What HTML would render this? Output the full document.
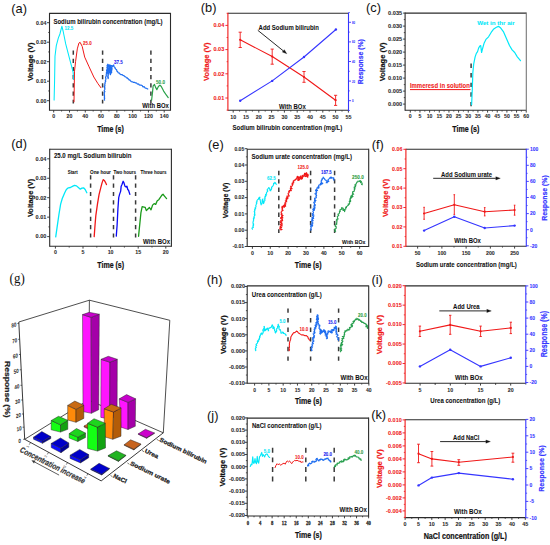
<!DOCTYPE html>
<html><head><meta charset="utf-8"><style>
html,body{margin:0;padding:0;background:#fff;}
body{width:550px;height:545px;overflow:hidden;}
svg{display:block;font-family:"Liberation Sans", sans-serif;}
</style></head><body>
<svg width="550" height="545" viewBox="0 0 550 545">
<rect width="550" height="545" fill="#fff"/>
<text x="11.30" y="13.20" font-size="12.80" fill="#111" font-weight="normal" text-anchor="start">(a)</text>
<line x1="47.00" y1="100.70" x2="49.50" y2="100.70" stroke="#2b2b2b" stroke-width="0.9" />
<text x="46.40" y="102.57" font-size="5.20" fill="#2b2b2b" font-weight="bold" text-anchor="end" stroke="#2b2b2b" stroke-width="0.06" textLength="10.29" lengthAdjust="spacingAndGlyphs">0.00</text>
<line x1="47.00" y1="81.20" x2="49.50" y2="81.20" stroke="#2b2b2b" stroke-width="0.9" />
<text x="46.40" y="83.07" font-size="5.20" fill="#2b2b2b" font-weight="bold" text-anchor="end" stroke="#2b2b2b" stroke-width="0.06" textLength="10.29" lengthAdjust="spacingAndGlyphs">0.01</text>
<line x1="47.00" y1="61.70" x2="49.50" y2="61.70" stroke="#2b2b2b" stroke-width="0.9" />
<text x="46.40" y="63.57" font-size="5.20" fill="#2b2b2b" font-weight="bold" text-anchor="end" stroke="#2b2b2b" stroke-width="0.06" textLength="10.29" lengthAdjust="spacingAndGlyphs">0.02</text>
<line x1="47.00" y1="42.20" x2="49.50" y2="42.20" stroke="#2b2b2b" stroke-width="0.9" />
<text x="46.40" y="44.07" font-size="5.20" fill="#2b2b2b" font-weight="bold" text-anchor="end" stroke="#2b2b2b" stroke-width="0.06" textLength="10.29" lengthAdjust="spacingAndGlyphs">0.03</text>
<line x1="47.00" y1="22.70" x2="49.50" y2="22.70" stroke="#2b2b2b" stroke-width="0.9" />
<text x="46.40" y="24.57" font-size="5.20" fill="#2b2b2b" font-weight="bold" text-anchor="end" stroke="#2b2b2b" stroke-width="0.06" textLength="10.29" lengthAdjust="spacingAndGlyphs">0.04</text>
<line x1="48.20" y1="90.95" x2="49.50" y2="90.95" stroke="#2b2b2b" stroke-width="0.8" />
<line x1="48.20" y1="71.45" x2="49.50" y2="71.45" stroke="#2b2b2b" stroke-width="0.8" />
<line x1="48.20" y1="51.95" x2="49.50" y2="51.95" stroke="#2b2b2b" stroke-width="0.8" />
<line x1="48.20" y1="32.45" x2="49.50" y2="32.45" stroke="#2b2b2b" stroke-width="0.8" />
<line x1="53.70" y1="110.20" x2="53.70" y2="112.50" stroke="#2b2b2b" stroke-width="0.9" />
<text x="53.70" y="118.11" font-size="5.30" fill="#2b2b2b" font-weight="bold" text-anchor="middle" stroke="#2b2b2b" stroke-width="0.06">0</text>
<line x1="69.49" y1="110.20" x2="69.49" y2="112.50" stroke="#2b2b2b" stroke-width="0.9" />
<text x="69.49" y="118.11" font-size="5.30" fill="#2b2b2b" font-weight="bold" text-anchor="middle" stroke="#2b2b2b" stroke-width="0.06">20</text>
<line x1="85.27" y1="110.20" x2="85.27" y2="112.50" stroke="#2b2b2b" stroke-width="0.9" />
<text x="85.27" y="118.11" font-size="5.30" fill="#2b2b2b" font-weight="bold" text-anchor="middle" stroke="#2b2b2b" stroke-width="0.06">40</text>
<line x1="101.06" y1="110.20" x2="101.06" y2="112.50" stroke="#2b2b2b" stroke-width="0.9" />
<text x="101.06" y="118.11" font-size="5.30" fill="#2b2b2b" font-weight="bold" text-anchor="middle" stroke="#2b2b2b" stroke-width="0.06">60</text>
<line x1="116.84" y1="110.20" x2="116.84" y2="112.50" stroke="#2b2b2b" stroke-width="0.9" />
<text x="116.84" y="118.11" font-size="5.30" fill="#2b2b2b" font-weight="bold" text-anchor="middle" stroke="#2b2b2b" stroke-width="0.06">80</text>
<line x1="132.63" y1="110.20" x2="132.63" y2="112.50" stroke="#2b2b2b" stroke-width="0.9" />
<text x="132.63" y="118.11" font-size="5.30" fill="#2b2b2b" font-weight="bold" text-anchor="middle" stroke="#2b2b2b" stroke-width="0.06">100</text>
<line x1="148.42" y1="110.20" x2="148.42" y2="112.50" stroke="#2b2b2b" stroke-width="0.9" />
<text x="148.42" y="118.11" font-size="5.30" fill="#2b2b2b" font-weight="bold" text-anchor="middle" stroke="#2b2b2b" stroke-width="0.06">120</text>
<line x1="164.20" y1="110.20" x2="164.20" y2="112.50" stroke="#2b2b2b" stroke-width="0.9" />
<text x="164.20" y="118.11" font-size="5.30" fill="#2b2b2b" font-weight="bold" text-anchor="middle" stroke="#2b2b2b" stroke-width="0.06">140</text>
<line x1="61.59" y1="110.20" x2="61.59" y2="111.50" stroke="#2b2b2b" stroke-width="0.8" />
<line x1="77.38" y1="110.20" x2="77.38" y2="111.50" stroke="#2b2b2b" stroke-width="0.8" />
<line x1="93.16" y1="110.20" x2="93.16" y2="111.50" stroke="#2b2b2b" stroke-width="0.8" />
<line x1="108.95" y1="110.20" x2="108.95" y2="111.50" stroke="#2b2b2b" stroke-width="0.8" />
<line x1="124.74" y1="110.20" x2="124.74" y2="111.50" stroke="#2b2b2b" stroke-width="0.8" />
<line x1="140.52" y1="110.20" x2="140.52" y2="111.50" stroke="#2b2b2b" stroke-width="0.8" />
<line x1="156.31" y1="110.20" x2="156.31" y2="111.50" stroke="#2b2b2b" stroke-width="0.8" />
<text x="110.50" y="131.59" font-size="8.30" fill="#111" font-weight="bold" text-anchor="middle" stroke="#111" stroke-width="0.2" textLength="26.70" lengthAdjust="spacingAndGlyphs">Time (s)</text>
<text transform="translate(30.00,61.80) rotate(-90)" x="0" y="2.88" font-size="8.00" fill="#111" font-weight="bold" text-anchor="middle" stroke="#111" stroke-width="0.2" textLength="38.60" lengthAdjust="spacingAndGlyphs">Voltage (V)</text>
<text x="53.40" y="23.90" font-size="6.40" fill="#111" font-weight="bold" text-anchor="start" stroke="#111" stroke-width="0.06" textLength="109.20" lengthAdjust="spacingAndGlyphs">Sodium bilirubin concentration (mg/L)</text>
<line x1="73.30" y1="50.50" x2="73.30" y2="103.40" stroke="#3a3a3a" stroke-width="1.5" stroke-dasharray="4.2 4"/>
<line x1="102.60" y1="50.50" x2="102.60" y2="103.40" stroke="#3a3a3a" stroke-width="1.5" stroke-dasharray="4.2 4"/>
<line x1="150.90" y1="50.50" x2="150.90" y2="103.40" stroke="#3a3a3a" stroke-width="1.5" stroke-dasharray="4.2 4"/>
<polyline points="54.10,100.10 54.60,80.00 55.00,56.30 56.30,45.60 58.30,38.10 59.90,34.00 61.90,26.20 63.20,31.50 65.70,43.90 69.80,59.60 73.10,72.00 73.60,79.50" fill="none" stroke="#00e8f8" stroke-width="1.05" stroke-linejoin="round" stroke-linecap="round" />
<polyline points="74.00,101.80 74.50,71.20 75.60,61.30 77.30,48.90 78.90,43.10 80.10,42.30 82.20,46.40 84.70,57.10 88.80,66.20 93.80,77.00 97.90,83.60 100.90,87.70" fill="none" stroke="#f01818" stroke-width="1.0" stroke-linejoin="round" stroke-linecap="round" />
<polyline points="104.58,100.22 104.42,99.59 104.27,98.97 104.72,98.34 104.20,97.71 104.61,97.09 104.46,96.46 104.18,95.83 104.59,95.21 104.17,94.58 104.52,93.96 104.19,93.33 104.21,92.70 104.51,92.08 104.88,91.45 104.24,90.83 104.33,90.20 104.70,89.57 104.98,88.95 104.65,88.32 104.49,87.70 105.01,87.07 104.17,86.44 104.58,85.82 105.06,85.24 104.73,84.46 104.76,83.78 105.24,83.20 104.98,82.55 105.23,81.97 105.76,81.42 105.27,80.74 105.71,80.19 105.84,79.59 105.69,78.95 105.92,78.37 105.57,77.71 105.65,77.11 105.86,76.52 106.36,75.97 106.28,75.34 106.28,74.73 106.24,74.11 106.54,73.52 106.49,72.90 106.41,72.27 106.91,71.71 106.89,71.09 106.54,70.43 106.90,69.85 106.92,69.24 107.29,68.66 107.22,68.03 106.89,67.38 107.57,66.84 107.20,66.18 107.09,65.42 107.57,64.85 107.85,64.22 107.63,64.82 108.19,65.41 107.90,66.02 108.31,66.61 107.76,67.22 107.68,67.82 107.87,68.42 107.60,69.02 108.12,69.61 107.79,70.22 107.89,70.82 107.91,71.42 108.04,72.02 107.70,72.62 107.62,73.22 108.05,73.82 107.89,74.42 108.45,75.01 107.88,75.62 107.94,76.22 107.64,76.83 107.80,77.42 108.30,78.01 108.12,78.62 108.05,77.99 108.34,77.38 107.79,76.72 108.22,76.12 108.00,75.48 107.99,74.85 107.97,74.22 108.64,73.63 108.10,72.98 108.25,72.36 108.41,71.74 108.88,71.14 108.20,70.47 108.57,69.87 108.70,69.25 109.03,68.64 109.01,68.01 109.09,67.39 108.60,66.74 108.75,66.12 108.74,65.49 108.90,64.87 108.60,65.50 108.57,66.11 109.34,66.66 109.35,67.27 109.34,67.88 109.38,68.48 109.20,69.10 109.14,69.71 109.48,70.30 109.75,70.88 109.42,71.51 109.50,72.11 109.43,72.73 109.53,72.13 109.91,71.55 109.72,70.93 109.60,70.31 109.73,69.71 109.83,69.11 109.31,68.47 110.11,67.92 110.04,67.31 110.16,66.71 110.14,66.10 109.81,65.47 109.95,64.87 110.07,65.48 110.37,66.08 109.93,66.72 110.47,67.31 110.50,67.92 110.41,68.54 110.48,69.15 110.35,69.77 110.65,70.37 110.73,70.98 110.62,71.61 110.70,72.22 110.50,72.84 110.83,73.44 110.10,74.09 110.47,74.69 110.61,74.09 110.23,73.45 110.35,72.84 110.48,72.24 110.53,71.63 110.34,71.01 111.03,70.43 111.19,69.83 110.76,69.19 110.81,68.58 110.48,67.95 110.53,67.34 110.78,66.74 110.75,66.13 111.00,65.53 110.74,66.15 111.39,66.70 111.56,67.30 110.77,67.96 111.19,68.53 111.58,69.10 111.26,69.73 111.77,70.30 111.36,70.93 111.00,71.56 111.15,72.15 111.52,72.73 111.74,72.14 111.39,71.51 111.53,70.92 111.40,70.31 111.98,69.74 111.81,69.13 112.08,68.55 111.72,67.92 111.66,67.31 112.24,66.75 112.44,66.16 112.04,65.53 112.83,66.18 113.55,65.71 113.75,64.87 113.75,65.63 114.00,66.29 114.33,66.92 115.02,67.40 115.05,68.15 115.37,68.70 115.82,69.17 116.40,69.56 116.73,70.11 116.86,70.77 117.02,71.42 117.67,71.64 117.96,72.34 118.34,72.92 119.14,72.95 119.64,73.38 119.98,74.05 120.50,74.41 121.06,74.71 121.88,74.59 122.49,74.80 122.91,75.34 123.70,75.58 124.37,75.99 124.87,76.65 125.65,76.74 126.13,77.41 126.67,77.96 127.49,77.96 127.71,78.62 128.38,78.82 128.70,79.37 129.05,79.90 129.94,79.88 130.11,80.58 130.70,81.04 131.25,81.57 131.96,81.79 132.73,81.89 133.31,82.32 134.04,82.31 134.78,82.27 135.26,83.01 136.05,82.84 136.65,83.20 137.09,83.72 137.59,84.14 138.38,83.96 138.94,84.24 139.28,84.96 139.93,85.06 140.58,85.16 141.28,85.18 141.85,85.42 142.40,85.72 142.66,86.61 143.26,86.81 144.09,86.56 144.51,87.13 144.90,87.71 145.38,88.15 146.07,88.23 146.76,88.32 147.21,88.80 147.78,89.09" fill="none" stroke="#1f6ef0" stroke-width="1.2" stroke-linejoin="round" stroke-linecap="round" />
<polyline points="151.59,100.22 152.51,92.36 153.16,85.82 154.47,84.51 155.52,87.13 156.83,89.74 158.40,86.47 159.97,85.16 161.28,86.47 163.64,91.05 166.25,94.98 168.22,97.60" fill="none" stroke="#28a048" stroke-width="1.2" stroke-linejoin="round" stroke-linecap="round" />
<text x="64.50" y="30.07" font-size="5.20" fill="#00e8f8" font-weight="bold" text-anchor="start" stroke="#00e8f8" stroke-width="0.06" textLength="8.60" lengthAdjust="spacingAndGlyphs">12.5</text>
<text x="83.10" y="45.27" font-size="5.20" fill="#f01818" font-weight="bold" text-anchor="start" stroke="#f01818" stroke-width="0.06" textLength="8.60" lengthAdjust="spacingAndGlyphs">25.0</text>
<text x="114.10" y="64.37" font-size="5.20" fill="#1818f0" font-weight="bold" text-anchor="start" stroke="#1818f0" stroke-width="0.06" textLength="8.80" lengthAdjust="spacingAndGlyphs">37.5</text>
<text x="156.00" y="83.77" font-size="5.20" fill="#28a048" font-weight="bold" text-anchor="start" stroke="#28a048" stroke-width="0.06" textLength="9.00" lengthAdjust="spacingAndGlyphs">50.0</text>
<text x="168.80" y="108.20" font-size="6.40" fill="#111" font-weight="bold" text-anchor="end" stroke="#111" stroke-width="0.06" textLength="26.50" lengthAdjust="spacingAndGlyphs">With BOx</text>
<line x1="49.50" y1="13.40" x2="170.50" y2="13.40" stroke="#2b2b2b" stroke-width="1.1" />
<line x1="49.50" y1="110.20" x2="170.50" y2="110.20" stroke="#2b2b2b" stroke-width="1.1" />
<line x1="49.50" y1="12.90" x2="49.50" y2="110.70" stroke="#2b2b2b" stroke-width="1.1" />
<line x1="170.50" y1="12.90" x2="170.50" y2="110.70" stroke="#2b2b2b" stroke-width="1.1" />
<text x="200.80" y="11.50" font-size="12.80" fill="#111" font-weight="normal" text-anchor="start">(b)</text>
<line x1="225.40" y1="98.00" x2="227.90" y2="98.00" stroke="#f01818" stroke-width="0.9" />
<text x="224.20" y="99.80" font-size="5.00" fill="#f01818" font-weight="bold" text-anchor="end" stroke="#f01818" stroke-width="0.06" textLength="10.71" lengthAdjust="spacingAndGlyphs">0.01</text>
<line x1="225.40" y1="73.80" x2="227.90" y2="73.80" stroke="#f01818" stroke-width="0.9" />
<text x="224.20" y="75.60" font-size="5.00" fill="#f01818" font-weight="bold" text-anchor="end" stroke="#f01818" stroke-width="0.06" textLength="10.71" lengthAdjust="spacingAndGlyphs">0.02</text>
<line x1="225.40" y1="49.60" x2="227.90" y2="49.60" stroke="#f01818" stroke-width="0.9" />
<text x="224.20" y="51.40" font-size="5.00" fill="#f01818" font-weight="bold" text-anchor="end" stroke="#f01818" stroke-width="0.06" textLength="10.71" lengthAdjust="spacingAndGlyphs">0.03</text>
<line x1="225.40" y1="25.40" x2="227.90" y2="25.40" stroke="#f01818" stroke-width="0.9" />
<text x="224.20" y="27.20" font-size="5.00" fill="#f01818" font-weight="bold" text-anchor="end" stroke="#f01818" stroke-width="0.06" textLength="10.71" lengthAdjust="spacingAndGlyphs">0.04</text>
<line x1="226.60" y1="85.90" x2="227.90" y2="85.90" stroke="#f01818" stroke-width="0.8" />
<line x1="226.60" y1="61.70" x2="227.90" y2="61.70" stroke="#f01818" stroke-width="0.8" />
<line x1="226.60" y1="37.50" x2="227.90" y2="37.50" stroke="#f01818" stroke-width="0.8" />
<line x1="348.50" y1="100.70" x2="351.00" y2="100.70" stroke="#3535ff" stroke-width="0.9" />
<text x="351.90" y="102.21" font-size="4.20" fill="#3535ff" font-weight="bold" text-anchor="start" stroke="#3535ff" stroke-width="0.06" textLength="1.55" lengthAdjust="spacingAndGlyphs">0</text>
<line x1="348.50" y1="81.10" x2="351.00" y2="81.10" stroke="#3535ff" stroke-width="0.9" />
<text x="351.90" y="82.61" font-size="4.20" fill="#3535ff" font-weight="bold" text-anchor="start" stroke="#3535ff" stroke-width="0.06" textLength="3.10" lengthAdjust="spacingAndGlyphs">20</text>
<line x1="348.50" y1="61.50" x2="351.00" y2="61.50" stroke="#3535ff" stroke-width="0.9" />
<text x="351.90" y="63.01" font-size="4.20" fill="#3535ff" font-weight="bold" text-anchor="start" stroke="#3535ff" stroke-width="0.06" textLength="3.10" lengthAdjust="spacingAndGlyphs">40</text>
<line x1="348.50" y1="41.90" x2="351.00" y2="41.90" stroke="#3535ff" stroke-width="0.9" />
<text x="351.90" y="43.41" font-size="4.20" fill="#3535ff" font-weight="bold" text-anchor="start" stroke="#3535ff" stroke-width="0.06" textLength="3.10" lengthAdjust="spacingAndGlyphs">60</text>
<line x1="348.50" y1="22.30" x2="351.00" y2="22.30" stroke="#3535ff" stroke-width="0.9" />
<text x="351.90" y="23.81" font-size="4.20" fill="#3535ff" font-weight="bold" text-anchor="start" stroke="#3535ff" stroke-width="0.06" textLength="3.10" lengthAdjust="spacingAndGlyphs">80</text>
<line x1="348.50" y1="90.90" x2="349.80" y2="90.90" stroke="#3535ff" stroke-width="0.8" />
<line x1="348.50" y1="71.30" x2="349.80" y2="71.30" stroke="#3535ff" stroke-width="0.8" />
<line x1="348.50" y1="51.70" x2="349.80" y2="51.70" stroke="#3535ff" stroke-width="0.8" />
<line x1="348.50" y1="32.10" x2="349.80" y2="32.10" stroke="#3535ff" stroke-width="0.8" />
<line x1="226.60" y1="13.30" x2="227.90" y2="13.30" stroke="#f01818" stroke-width="0.8" />
<line x1="226.60" y1="110.10" x2="227.90" y2="110.10" stroke="#f01818" stroke-width="0.8" />
<line x1="348.50" y1="110.50" x2="349.80" y2="110.50" stroke="#3535ff" stroke-width="0.8" />
<line x1="348.50" y1="12.50" x2="349.80" y2="12.50" stroke="#3535ff" stroke-width="0.8" />
<line x1="233.20" y1="110.30" x2="233.20" y2="112.60" stroke="#2b2b2b" stroke-width="0.9" />
<text x="233.20" y="118.54" font-size="5.40" fill="#2b2b2b" font-weight="bold" text-anchor="middle" stroke="#2b2b2b" stroke-width="0.06">10</text>
<line x1="246.00" y1="110.30" x2="246.00" y2="112.60" stroke="#2b2b2b" stroke-width="0.9" />
<text x="246.00" y="118.54" font-size="5.40" fill="#2b2b2b" font-weight="bold" text-anchor="middle" stroke="#2b2b2b" stroke-width="0.06">15</text>
<line x1="258.80" y1="110.30" x2="258.80" y2="112.60" stroke="#2b2b2b" stroke-width="0.9" />
<text x="258.80" y="118.54" font-size="5.40" fill="#2b2b2b" font-weight="bold" text-anchor="middle" stroke="#2b2b2b" stroke-width="0.06">20</text>
<line x1="271.60" y1="110.30" x2="271.60" y2="112.60" stroke="#2b2b2b" stroke-width="0.9" />
<text x="271.60" y="118.54" font-size="5.40" fill="#2b2b2b" font-weight="bold" text-anchor="middle" stroke="#2b2b2b" stroke-width="0.06">25</text>
<line x1="284.40" y1="110.30" x2="284.40" y2="112.60" stroke="#2b2b2b" stroke-width="0.9" />
<text x="284.40" y="118.54" font-size="5.40" fill="#2b2b2b" font-weight="bold" text-anchor="middle" stroke="#2b2b2b" stroke-width="0.06">30</text>
<line x1="297.20" y1="110.30" x2="297.20" y2="112.60" stroke="#2b2b2b" stroke-width="0.9" />
<text x="297.20" y="118.54" font-size="5.40" fill="#2b2b2b" font-weight="bold" text-anchor="middle" stroke="#2b2b2b" stroke-width="0.06">35</text>
<line x1="310.00" y1="110.30" x2="310.00" y2="112.60" stroke="#2b2b2b" stroke-width="0.9" />
<text x="310.00" y="118.54" font-size="5.40" fill="#2b2b2b" font-weight="bold" text-anchor="middle" stroke="#2b2b2b" stroke-width="0.06">40</text>
<line x1="322.80" y1="110.30" x2="322.80" y2="112.60" stroke="#2b2b2b" stroke-width="0.9" />
<text x="322.80" y="118.54" font-size="5.40" fill="#2b2b2b" font-weight="bold" text-anchor="middle" stroke="#2b2b2b" stroke-width="0.06">45</text>
<line x1="335.60" y1="110.30" x2="335.60" y2="112.60" stroke="#2b2b2b" stroke-width="0.9" />
<text x="335.60" y="118.54" font-size="5.40" fill="#2b2b2b" font-weight="bold" text-anchor="middle" stroke="#2b2b2b" stroke-width="0.06">50</text>
<line x1="348.40" y1="110.30" x2="348.40" y2="112.60" stroke="#2b2b2b" stroke-width="0.9" />
<text x="348.40" y="118.54" font-size="5.40" fill="#2b2b2b" font-weight="bold" text-anchor="middle" stroke="#2b2b2b" stroke-width="0.06">55</text>
<line x1="239.60" y1="110.30" x2="239.60" y2="111.60" stroke="#2b2b2b" stroke-width="0.8" />
<line x1="252.40" y1="110.30" x2="252.40" y2="111.60" stroke="#2b2b2b" stroke-width="0.8" />
<line x1="265.20" y1="110.30" x2="265.20" y2="111.60" stroke="#2b2b2b" stroke-width="0.8" />
<line x1="278.00" y1="110.30" x2="278.00" y2="111.60" stroke="#2b2b2b" stroke-width="0.8" />
<line x1="290.80" y1="110.30" x2="290.80" y2="111.60" stroke="#2b2b2b" stroke-width="0.8" />
<line x1="303.60" y1="110.30" x2="303.60" y2="111.60" stroke="#2b2b2b" stroke-width="0.8" />
<line x1="316.40" y1="110.30" x2="316.40" y2="111.60" stroke="#2b2b2b" stroke-width="0.8" />
<line x1="329.20" y1="110.30" x2="329.20" y2="111.60" stroke="#2b2b2b" stroke-width="0.8" />
<line x1="342.00" y1="110.30" x2="342.00" y2="111.60" stroke="#2b2b2b" stroke-width="0.8" />
<text transform="translate(206.00,61.80) rotate(-90)" x="0" y="2.88" font-size="8.00" fill="#f01818" font-weight="bold" text-anchor="middle" stroke="#f01818" stroke-width="0.2" textLength="38.40" lengthAdjust="spacingAndGlyphs">Voltage (V)</text>
<text transform="translate(360.90,61.70) rotate(-90)" x="0" y="2.59" font-size="7.20" fill="#3535ff" font-weight="bold" text-anchor="middle" stroke="#3535ff" stroke-width="0.2" textLength="45.20" lengthAdjust="spacingAndGlyphs">Response (%)</text>
<text x="232.50" y="130.08" font-size="6.60" fill="#111" font-weight="bold" text-anchor="start" stroke="#111" stroke-width="0.06" textLength="109.80" lengthAdjust="spacingAndGlyphs">Sodium bilirubin concentration (mg/L)</text>
<text x="258.60" y="29.80" font-size="6.40" fill="#111" font-weight="bold" text-anchor="start" stroke="#111" stroke-width="0.06" textLength="60.30" lengthAdjust="spacingAndGlyphs">Add Sodium bilirubin</text>
<line x1="257.80" y1="30.30" x2="283.30" y2="50.87" stroke="#111" stroke-width="0.9" />
<polygon points="286.80,53.70 282.29,52.12 284.30,49.63" fill="#111" stroke="#111" stroke-width="0.3" stroke-linejoin="round"/>
<text x="279.00" y="108.90" font-size="6.40" fill="#111" font-weight="bold" text-anchor="start" stroke="#111" stroke-width="0.06" textLength="26.80" lengthAdjust="spacingAndGlyphs">With BOx</text>
<polyline points="240.20,39.80 272.20,56.50 304.00,77.00 335.60,100.20" fill="none" stroke="#f01818" stroke-width="1.1" stroke-linejoin="round" stroke-linecap="round" />
<line x1="240.20" y1="32.20" x2="240.20" y2="47.50" stroke="#f01818" stroke-width="0.9" />
<line x1="238.60" y1="32.20" x2="241.80" y2="32.20" stroke="#f01818" stroke-width="0.9" />
<line x1="238.60" y1="47.50" x2="241.80" y2="47.50" stroke="#f01818" stroke-width="0.9" />
<circle cx="240.20" cy="39.80" r="1.1" fill="#f01818"/>
<line x1="272.20" y1="49.10" x2="272.20" y2="64.20" stroke="#f01818" stroke-width="0.9" />
<line x1="270.60" y1="49.10" x2="273.80" y2="49.10" stroke="#f01818" stroke-width="0.9" />
<line x1="270.60" y1="64.20" x2="273.80" y2="64.20" stroke="#f01818" stroke-width="0.9" />
<circle cx="272.20" cy="56.50" r="1.1" fill="#f01818"/>
<line x1="304.00" y1="71.50" x2="304.00" y2="82.30" stroke="#f01818" stroke-width="0.9" />
<line x1="302.40" y1="71.50" x2="305.60" y2="71.50" stroke="#f01818" stroke-width="0.9" />
<line x1="302.40" y1="82.30" x2="305.60" y2="82.30" stroke="#f01818" stroke-width="0.9" />
<circle cx="304.00" cy="77.00" r="1.1" fill="#f01818"/>
<line x1="335.60" y1="95.30" x2="335.60" y2="105.40" stroke="#f01818" stroke-width="0.9" />
<line x1="334.00" y1="95.30" x2="337.20" y2="95.30" stroke="#f01818" stroke-width="0.9" />
<line x1="334.00" y1="105.40" x2="337.20" y2="105.40" stroke="#f01818" stroke-width="0.9" />
<circle cx="335.60" cy="100.20" r="1.1" fill="#f01818"/>
<polyline points="240.20,100.80 272.20,80.90 304.00,57.00 335.90,29.50" fill="none" stroke="#3535ff" stroke-width="1.1" stroke-linejoin="round" stroke-linecap="round" />
<circle cx="240.20" cy="100.80" r="1.2" fill="#3535ff"/>
<circle cx="272.20" cy="80.90" r="1.2" fill="#3535ff"/>
<circle cx="304.00" cy="57.00" r="1.2" fill="#3535ff"/>
<circle cx="335.90" cy="29.50" r="1.2" fill="#3535ff"/>
<line x1="227.90" y1="13.20" x2="348.50" y2="13.20" stroke="#2b2b2b" stroke-width="1.1" />
<line x1="227.90" y1="110.30" x2="348.50" y2="110.30" stroke="#2b2b2b" stroke-width="1.1" />
<line x1="227.90" y1="12.70" x2="227.90" y2="110.80" stroke="#f01818" stroke-width="1.1" />
<line x1="348.50" y1="12.70" x2="348.50" y2="110.80" stroke="#3535ff" stroke-width="1.1" />
<text x="366.10" y="12.10" font-size="12.80" fill="#111" font-weight="normal" text-anchor="start">(c)</text>
<line x1="403.10" y1="104.10" x2="405.10" y2="104.10" stroke="#2b2b2b" stroke-width="0.9" />
<text x="402.20" y="105.94" font-size="5.10" fill="#2b2b2b" font-weight="bold" text-anchor="end" stroke="#2b2b2b" stroke-width="0.06" textLength="14.08" lengthAdjust="spacingAndGlyphs">0.000</text>
<line x1="403.10" y1="91.10" x2="405.10" y2="91.10" stroke="#2b2b2b" stroke-width="0.9" />
<text x="402.20" y="92.94" font-size="5.10" fill="#2b2b2b" font-weight="bold" text-anchor="end" stroke="#2b2b2b" stroke-width="0.06" textLength="14.08" lengthAdjust="spacingAndGlyphs">0.005</text>
<line x1="403.10" y1="78.10" x2="405.10" y2="78.10" stroke="#2b2b2b" stroke-width="0.9" />
<text x="402.20" y="79.94" font-size="5.10" fill="#2b2b2b" font-weight="bold" text-anchor="end" stroke="#2b2b2b" stroke-width="0.06" textLength="14.08" lengthAdjust="spacingAndGlyphs">0.010</text>
<line x1="403.10" y1="65.10" x2="405.10" y2="65.10" stroke="#2b2b2b" stroke-width="0.9" />
<text x="402.20" y="66.94" font-size="5.10" fill="#2b2b2b" font-weight="bold" text-anchor="end" stroke="#2b2b2b" stroke-width="0.06" textLength="14.08" lengthAdjust="spacingAndGlyphs">0.015</text>
<line x1="403.10" y1="52.10" x2="405.10" y2="52.10" stroke="#2b2b2b" stroke-width="0.9" />
<text x="402.20" y="53.94" font-size="5.10" fill="#2b2b2b" font-weight="bold" text-anchor="end" stroke="#2b2b2b" stroke-width="0.06" textLength="14.08" lengthAdjust="spacingAndGlyphs">0.020</text>
<line x1="403.10" y1="39.10" x2="405.10" y2="39.10" stroke="#2b2b2b" stroke-width="0.9" />
<text x="402.20" y="40.94" font-size="5.10" fill="#2b2b2b" font-weight="bold" text-anchor="end" stroke="#2b2b2b" stroke-width="0.06" textLength="14.08" lengthAdjust="spacingAndGlyphs">0.025</text>
<line x1="403.10" y1="26.10" x2="405.10" y2="26.10" stroke="#2b2b2b" stroke-width="0.9" />
<text x="402.20" y="27.94" font-size="5.10" fill="#2b2b2b" font-weight="bold" text-anchor="end" stroke="#2b2b2b" stroke-width="0.06" textLength="14.08" lengthAdjust="spacingAndGlyphs">0.030</text>
<line x1="403.10" y1="13.10" x2="405.10" y2="13.10" stroke="#2b2b2b" stroke-width="0.9" />
<text x="402.20" y="14.94" font-size="5.10" fill="#2b2b2b" font-weight="bold" text-anchor="end" stroke="#2b2b2b" stroke-width="0.06" textLength="14.08" lengthAdjust="spacingAndGlyphs">0.035</text>
<line x1="403.80" y1="97.60" x2="405.10" y2="97.60" stroke="#2b2b2b" stroke-width="0.8" />
<line x1="403.80" y1="84.60" x2="405.10" y2="84.60" stroke="#2b2b2b" stroke-width="0.8" />
<line x1="403.80" y1="71.60" x2="405.10" y2="71.60" stroke="#2b2b2b" stroke-width="0.8" />
<line x1="403.80" y1="58.60" x2="405.10" y2="58.60" stroke="#2b2b2b" stroke-width="0.8" />
<line x1="403.80" y1="45.60" x2="405.10" y2="45.60" stroke="#2b2b2b" stroke-width="0.8" />
<line x1="403.80" y1="32.60" x2="405.10" y2="32.60" stroke="#2b2b2b" stroke-width="0.8" />
<line x1="403.80" y1="19.60" x2="405.10" y2="19.60" stroke="#2b2b2b" stroke-width="0.8" />
<line x1="410.30" y1="110.30" x2="410.30" y2="112.60" stroke="#2b2b2b" stroke-width="0.9" />
<text x="410.30" y="118.47" font-size="5.20" fill="#2b2b2b" font-weight="bold" text-anchor="middle" stroke="#2b2b2b" stroke-width="0.06" textLength="2.90" lengthAdjust="spacingAndGlyphs">0</text>
<line x1="419.96" y1="110.30" x2="419.96" y2="112.60" stroke="#2b2b2b" stroke-width="0.9" />
<text x="419.96" y="118.47" font-size="5.20" fill="#2b2b2b" font-weight="bold" text-anchor="middle" stroke="#2b2b2b" stroke-width="0.06" textLength="2.90" lengthAdjust="spacingAndGlyphs">5</text>
<line x1="429.62" y1="110.30" x2="429.62" y2="112.60" stroke="#2b2b2b" stroke-width="0.9" />
<text x="429.62" y="118.47" font-size="5.20" fill="#2b2b2b" font-weight="bold" text-anchor="middle" stroke="#2b2b2b" stroke-width="0.06" textLength="5.80" lengthAdjust="spacingAndGlyphs">10</text>
<line x1="439.28" y1="110.30" x2="439.28" y2="112.60" stroke="#2b2b2b" stroke-width="0.9" />
<text x="439.28" y="118.47" font-size="5.20" fill="#2b2b2b" font-weight="bold" text-anchor="middle" stroke="#2b2b2b" stroke-width="0.06" textLength="5.80" lengthAdjust="spacingAndGlyphs">15</text>
<line x1="448.94" y1="110.30" x2="448.94" y2="112.60" stroke="#2b2b2b" stroke-width="0.9" />
<text x="448.94" y="118.47" font-size="5.20" fill="#2b2b2b" font-weight="bold" text-anchor="middle" stroke="#2b2b2b" stroke-width="0.06" textLength="5.80" lengthAdjust="spacingAndGlyphs">20</text>
<line x1="458.60" y1="110.30" x2="458.60" y2="112.60" stroke="#2b2b2b" stroke-width="0.9" />
<text x="458.60" y="118.47" font-size="5.20" fill="#2b2b2b" font-weight="bold" text-anchor="middle" stroke="#2b2b2b" stroke-width="0.06" textLength="5.80" lengthAdjust="spacingAndGlyphs">25</text>
<line x1="468.26" y1="110.30" x2="468.26" y2="112.60" stroke="#2b2b2b" stroke-width="0.9" />
<text x="468.26" y="118.47" font-size="5.20" fill="#2b2b2b" font-weight="bold" text-anchor="middle" stroke="#2b2b2b" stroke-width="0.06" textLength="5.80" lengthAdjust="spacingAndGlyphs">30</text>
<line x1="477.92" y1="110.30" x2="477.92" y2="112.60" stroke="#2b2b2b" stroke-width="0.9" />
<text x="477.92" y="118.47" font-size="5.20" fill="#2b2b2b" font-weight="bold" text-anchor="middle" stroke="#2b2b2b" stroke-width="0.06" textLength="5.80" lengthAdjust="spacingAndGlyphs">35</text>
<line x1="487.58" y1="110.30" x2="487.58" y2="112.60" stroke="#2b2b2b" stroke-width="0.9" />
<text x="487.58" y="118.47" font-size="5.20" fill="#2b2b2b" font-weight="bold" text-anchor="middle" stroke="#2b2b2b" stroke-width="0.06" textLength="5.80" lengthAdjust="spacingAndGlyphs">40</text>
<line x1="497.24" y1="110.30" x2="497.24" y2="112.60" stroke="#2b2b2b" stroke-width="0.9" />
<text x="497.24" y="118.47" font-size="5.20" fill="#2b2b2b" font-weight="bold" text-anchor="middle" stroke="#2b2b2b" stroke-width="0.06" textLength="5.80" lengthAdjust="spacingAndGlyphs">45</text>
<line x1="506.90" y1="110.30" x2="506.90" y2="112.60" stroke="#2b2b2b" stroke-width="0.9" />
<text x="506.90" y="118.47" font-size="5.20" fill="#2b2b2b" font-weight="bold" text-anchor="middle" stroke="#2b2b2b" stroke-width="0.06" textLength="5.80" lengthAdjust="spacingAndGlyphs">50</text>
<line x1="516.56" y1="110.30" x2="516.56" y2="112.60" stroke="#2b2b2b" stroke-width="0.9" />
<text x="516.56" y="118.47" font-size="5.20" fill="#2b2b2b" font-weight="bold" text-anchor="middle" stroke="#2b2b2b" stroke-width="0.06" textLength="5.80" lengthAdjust="spacingAndGlyphs">55</text>
<line x1="526.22" y1="110.30" x2="526.22" y2="112.60" stroke="#2b2b2b" stroke-width="0.9" />
<text x="526.22" y="118.47" font-size="5.20" fill="#2b2b2b" font-weight="bold" text-anchor="middle" stroke="#2b2b2b" stroke-width="0.06" textLength="5.80" lengthAdjust="spacingAndGlyphs">60</text>
<line x1="415.13" y1="110.30" x2="415.13" y2="111.60" stroke="#2b2b2b" stroke-width="0.8" />
<line x1="424.79" y1="110.30" x2="424.79" y2="111.60" stroke="#2b2b2b" stroke-width="0.8" />
<line x1="434.45" y1="110.30" x2="434.45" y2="111.60" stroke="#2b2b2b" stroke-width="0.8" />
<line x1="444.11" y1="110.30" x2="444.11" y2="111.60" stroke="#2b2b2b" stroke-width="0.8" />
<line x1="453.77" y1="110.30" x2="453.77" y2="111.60" stroke="#2b2b2b" stroke-width="0.8" />
<line x1="463.43" y1="110.30" x2="463.43" y2="111.60" stroke="#2b2b2b" stroke-width="0.8" />
<line x1="473.09" y1="110.30" x2="473.09" y2="111.60" stroke="#2b2b2b" stroke-width="0.8" />
<line x1="482.75" y1="110.30" x2="482.75" y2="111.60" stroke="#2b2b2b" stroke-width="0.8" />
<line x1="492.41" y1="110.30" x2="492.41" y2="111.60" stroke="#2b2b2b" stroke-width="0.8" />
<line x1="502.07" y1="110.30" x2="502.07" y2="111.60" stroke="#2b2b2b" stroke-width="0.8" />
<line x1="511.73" y1="110.30" x2="511.73" y2="111.60" stroke="#2b2b2b" stroke-width="0.8" />
<line x1="521.39" y1="110.30" x2="521.39" y2="111.60" stroke="#2b2b2b" stroke-width="0.8" />
<text transform="translate(381.90,61.85) rotate(-90)" x="0" y="2.81" font-size="7.80" fill="#111" font-weight="bold" text-anchor="middle" stroke="#111" stroke-width="0.2" textLength="38.70" lengthAdjust="spacingAndGlyphs">Voltage (V)</text>
<text x="465.80" y="132.19" font-size="8.30" fill="#111" font-weight="bold" text-anchor="middle" stroke="#111" stroke-width="0.2" textLength="27.00" lengthAdjust="spacingAndGlyphs">Time (s)</text>
<text x="409.90" y="88.07" font-size="6.30" fill="#f01818" font-weight="bold" text-anchor="start" stroke="#f01818" stroke-width="0.06" textLength="60.00" lengthAdjust="spacingAndGlyphs">Immeresd in solution</text>
<line x1="410.00" y1="89.60" x2="470.50" y2="89.60" stroke="#f01818" stroke-width="1.0" />
<line x1="471.10" y1="63.50" x2="471.10" y2="106.50" stroke="#3a3a3a" stroke-width="1.5" stroke-dasharray="4.4 5.2"/>
<text x="477.20" y="24.89" font-size="5.80" fill="#00e8f8" font-weight="bold" text-anchor="start" stroke="#00e8f8" stroke-width="0.06" textLength="37.50" lengthAdjust="spacingAndGlyphs">Wet in thr air</text>
<polyline points="471.63,104.83 472.33,88.26 472.85,72.56 473.72,63.84 475.12,56.86 476.34,53.37 477.56,51.63 478.61,48.14 479.83,46.05 480.70,45.53 481.57,52.50 482.44,49.01 484.19,42.91 485.93,39.42 488.55,36.80 491.16,32.44 493.78,28.95 496.40,27.21 498.49,26.34 500.76,28.08 503.37,31.57 506.86,39.42 509.48,45.53 512.10,49.89 514.71,52.50 517.33,56.86 520.47,60.70" fill="none" stroke="#00e8f8" stroke-width="1.2" stroke-linejoin="round" stroke-linecap="round" />
<line x1="405.10" y1="13.10" x2="526.30" y2="13.10" stroke="#2b2b2b" stroke-width="1.1" />
<line x1="405.10" y1="110.30" x2="526.30" y2="110.30" stroke="#2b2b2b" stroke-width="1.1" />
<line x1="405.10" y1="12.60" x2="405.10" y2="110.80" stroke="#2b2b2b" stroke-width="1.1" />
<line x1="526.30" y1="12.60" x2="526.30" y2="110.80" stroke="#777" stroke-width="1.1" />
<text x="11.30" y="148.20" font-size="12.80" fill="#111" font-weight="normal" text-anchor="start">(d)</text>
<line x1="47.20" y1="236.60" x2="49.70" y2="236.60" stroke="#2b2b2b" stroke-width="0.9" />
<text x="46.40" y="238.47" font-size="5.20" fill="#2b2b2b" font-weight="bold" text-anchor="end" stroke="#2b2b2b" stroke-width="0.06" textLength="10.81" lengthAdjust="spacingAndGlyphs">0.00</text>
<line x1="47.20" y1="217.15" x2="49.70" y2="217.15" stroke="#2b2b2b" stroke-width="0.9" />
<text x="46.40" y="219.02" font-size="5.20" fill="#2b2b2b" font-weight="bold" text-anchor="end" stroke="#2b2b2b" stroke-width="0.06" textLength="10.81" lengthAdjust="spacingAndGlyphs">0.01</text>
<line x1="47.20" y1="197.70" x2="49.70" y2="197.70" stroke="#2b2b2b" stroke-width="0.9" />
<text x="46.40" y="199.57" font-size="5.20" fill="#2b2b2b" font-weight="bold" text-anchor="end" stroke="#2b2b2b" stroke-width="0.06" textLength="10.81" lengthAdjust="spacingAndGlyphs">0.02</text>
<line x1="47.20" y1="178.25" x2="49.70" y2="178.25" stroke="#2b2b2b" stroke-width="0.9" />
<text x="46.40" y="180.12" font-size="5.20" fill="#2b2b2b" font-weight="bold" text-anchor="end" stroke="#2b2b2b" stroke-width="0.06" textLength="10.81" lengthAdjust="spacingAndGlyphs">0.03</text>
<line x1="47.20" y1="158.80" x2="49.70" y2="158.80" stroke="#2b2b2b" stroke-width="0.9" />
<text x="46.40" y="160.67" font-size="5.20" fill="#2b2b2b" font-weight="bold" text-anchor="end" stroke="#2b2b2b" stroke-width="0.06" textLength="10.81" lengthAdjust="spacingAndGlyphs">0.04</text>
<line x1="48.40" y1="226.88" x2="49.70" y2="226.88" stroke="#2b2b2b" stroke-width="0.8" />
<line x1="48.40" y1="207.43" x2="49.70" y2="207.43" stroke="#2b2b2b" stroke-width="0.8" />
<line x1="48.40" y1="187.97" x2="49.70" y2="187.97" stroke="#2b2b2b" stroke-width="0.8" />
<line x1="48.40" y1="168.53" x2="49.70" y2="168.53" stroke="#2b2b2b" stroke-width="0.8" />
<line x1="55.40" y1="246.30" x2="55.40" y2="248.60" stroke="#2b2b2b" stroke-width="0.9" />
<text x="55.40" y="254.41" font-size="5.30" fill="#2b2b2b" font-weight="bold" text-anchor="middle" stroke="#2b2b2b" stroke-width="0.06">0</text>
<line x1="83.00" y1="246.30" x2="83.00" y2="248.60" stroke="#2b2b2b" stroke-width="0.9" />
<text x="83.00" y="254.41" font-size="5.30" fill="#2b2b2b" font-weight="bold" text-anchor="middle" stroke="#2b2b2b" stroke-width="0.06">5</text>
<line x1="110.60" y1="246.30" x2="110.60" y2="248.60" stroke="#2b2b2b" stroke-width="0.9" />
<text x="110.60" y="254.41" font-size="5.30" fill="#2b2b2b" font-weight="bold" text-anchor="middle" stroke="#2b2b2b" stroke-width="0.06">10</text>
<line x1="138.20" y1="246.30" x2="138.20" y2="248.60" stroke="#2b2b2b" stroke-width="0.9" />
<text x="138.20" y="254.41" font-size="5.30" fill="#2b2b2b" font-weight="bold" text-anchor="middle" stroke="#2b2b2b" stroke-width="0.06">15</text>
<line x1="165.80" y1="246.30" x2="165.80" y2="248.60" stroke="#2b2b2b" stroke-width="0.9" />
<text x="165.80" y="254.41" font-size="5.30" fill="#2b2b2b" font-weight="bold" text-anchor="middle" stroke="#2b2b2b" stroke-width="0.06">20</text>
<line x1="69.20" y1="246.30" x2="69.20" y2="247.60" stroke="#2b2b2b" stroke-width="0.8" />
<line x1="96.80" y1="246.30" x2="96.80" y2="247.60" stroke="#2b2b2b" stroke-width="0.8" />
<line x1="124.40" y1="246.30" x2="124.40" y2="247.60" stroke="#2b2b2b" stroke-width="0.8" />
<line x1="152.00" y1="246.30" x2="152.00" y2="247.60" stroke="#2b2b2b" stroke-width="0.8" />
<text x="110.70" y="267.79" font-size="8.30" fill="#111" font-weight="bold" text-anchor="middle" stroke="#111" stroke-width="0.2" textLength="26.90" lengthAdjust="spacingAndGlyphs">Time (s)</text>
<text transform="translate(30.05,197.90) rotate(-90)" x="0" y="2.88" font-size="8.00" fill="#111" font-weight="bold" text-anchor="middle" stroke="#111" stroke-width="0.2" textLength="38.30" lengthAdjust="spacingAndGlyphs">Voltage (V)</text>
<text x="53.90" y="157.70" font-size="6.40" fill="#111" font-weight="bold" text-anchor="start" stroke="#111" stroke-width="0.06" textLength="77.60" lengthAdjust="spacingAndGlyphs">25.0 mg/L Sodium bilirubin</text>
<text x="67.70" y="173.76" font-size="4.90" fill="#111" font-weight="bold" text-anchor="start" stroke="#111" stroke-width="0.06" textLength="10.10" lengthAdjust="spacingAndGlyphs">Start</text>
<text x="90.10" y="173.76" font-size="4.90" fill="#111" font-weight="bold" text-anchor="start" stroke="#111" stroke-width="0.06" textLength="20.80" lengthAdjust="spacingAndGlyphs">One hour</text>
<text x="113.50" y="173.76" font-size="4.90" fill="#111" font-weight="bold" text-anchor="start" stroke="#111" stroke-width="0.06" textLength="22.40" lengthAdjust="spacingAndGlyphs">Two hours</text>
<text x="140.60" y="173.76" font-size="4.90" fill="#111" font-weight="bold" text-anchor="start" stroke="#111" stroke-width="0.06" textLength="26.00" lengthAdjust="spacingAndGlyphs">Three hours</text>
<line x1="90.60" y1="175.30" x2="90.60" y2="237.50" stroke="#3a3a3a" stroke-width="1.5" stroke-dasharray="4.2 4.1"/>
<line x1="113.50" y1="175.30" x2="113.50" y2="237.50" stroke="#3a3a3a" stroke-width="1.5" stroke-dasharray="4.2 4.1"/>
<line x1="135.60" y1="175.30" x2="135.60" y2="237.50" stroke="#3a3a3a" stroke-width="1.5" stroke-dasharray="4.2 4.1"/>
<polyline points="55.73,236.91 57.36,225.46 59.00,214.00 60.64,204.18 62.27,198.46 64.73,192.73 66.36,189.46 68.33,187.82 70.45,187.49 72.91,186.18 74.55,185.36 76.51,185.86 78.64,187.82 80.27,189.13 81.91,188.15 83.55,187.82 85.18,189.46 86.82,192.73" fill="none" stroke="#00e8f8" stroke-width="1.3" stroke-linejoin="round" stroke-linecap="round" />
<polyline points="94.18,236.58 95.00,225.46 95.82,215.64 97.46,204.18 99.09,194.36 100.73,187.82 102.04,182.91 103.18,179.64 104.33,180.45 105.31,182.09 106.46,184.55" fill="none" stroke="#f01818" stroke-width="1.3" stroke-linejoin="round" stroke-linecap="round" />
<polyline points="116.27,236.09 117.09,225.46 117.91,209.09 118.73,197.64 119.55,194.36 120.69,191.09 121.18,186.18 122.00,184.55 123.15,181.27 123.96,182.91 124.95,186.18 126.09,187.00 126.91,186.18 127.73,189.46 128.55,190.27 129.86,194.36" fill="none" stroke="#0a0af5" stroke-width="1.3" stroke-linejoin="round" stroke-linecap="round" />
<polyline points="138.56,236.30 139.65,225.40 140.90,212.94 142.15,206.71 144.01,207.18 145.26,207.49 146.35,210.61 147.91,209.05 149.46,207.49 151.02,209.83 152.58,205.16 154.14,203.60 155.69,204.38 157.25,200.80 158.81,199.71 160.36,197.37 161.92,195.04 163.01,194.26 164.26,195.81 166.59,198.62" fill="none" stroke="#1a9a1a" stroke-width="1.3" stroke-linejoin="round" stroke-linecap="round" />
<text x="170.00" y="244.30" font-size="6.40" fill="#111" font-weight="bold" text-anchor="end" stroke="#111" stroke-width="0.06" textLength="27.00" lengthAdjust="spacingAndGlyphs">With BOx</text>
<line x1="49.70" y1="149.30" x2="171.40" y2="149.30" stroke="#2b2b2b" stroke-width="1.1" />
<line x1="49.70" y1="246.30" x2="171.40" y2="246.30" stroke="#2b2b2b" stroke-width="1.1" />
<line x1="49.70" y1="148.80" x2="49.70" y2="246.80" stroke="#2b2b2b" stroke-width="1.1" />
<line x1="171.40" y1="148.80" x2="171.40" y2="246.80" stroke="#2b2b2b" stroke-width="1.1" />
<text x="208.00" y="148.90" font-size="12.80" fill="#111" font-weight="normal" text-anchor="start">(e)</text>
<line x1="244.70" y1="246.50" x2="247.20" y2="246.50" stroke="#2b2b2b" stroke-width="0.9" />
<text x="244.20" y="248.30" font-size="5.00" fill="#2b2b2b" font-weight="bold" text-anchor="end" stroke="#2b2b2b" stroke-width="0.06" textLength="11.62" lengthAdjust="spacingAndGlyphs">-0.01</text>
<line x1="244.70" y1="230.20" x2="247.20" y2="230.20" stroke="#2b2b2b" stroke-width="0.9" />
<text x="244.20" y="232.00" font-size="5.00" fill="#2b2b2b" font-weight="bold" text-anchor="end" stroke="#2b2b2b" stroke-width="0.06" textLength="9.80" lengthAdjust="spacingAndGlyphs">0.00</text>
<line x1="244.70" y1="213.90" x2="247.20" y2="213.90" stroke="#2b2b2b" stroke-width="0.9" />
<text x="244.20" y="215.70" font-size="5.00" fill="#2b2b2b" font-weight="bold" text-anchor="end" stroke="#2b2b2b" stroke-width="0.06" textLength="9.80" lengthAdjust="spacingAndGlyphs">0.01</text>
<line x1="244.70" y1="197.60" x2="247.20" y2="197.60" stroke="#2b2b2b" stroke-width="0.9" />
<text x="244.20" y="199.40" font-size="5.00" fill="#2b2b2b" font-weight="bold" text-anchor="end" stroke="#2b2b2b" stroke-width="0.06" textLength="9.80" lengthAdjust="spacingAndGlyphs">0.02</text>
<line x1="244.70" y1="181.30" x2="247.20" y2="181.30" stroke="#2b2b2b" stroke-width="0.9" />
<text x="244.20" y="183.10" font-size="5.00" fill="#2b2b2b" font-weight="bold" text-anchor="end" stroke="#2b2b2b" stroke-width="0.06" textLength="9.80" lengthAdjust="spacingAndGlyphs">0.03</text>
<line x1="244.70" y1="165.00" x2="247.20" y2="165.00" stroke="#2b2b2b" stroke-width="0.9" />
<text x="244.20" y="166.80" font-size="5.00" fill="#2b2b2b" font-weight="bold" text-anchor="end" stroke="#2b2b2b" stroke-width="0.06" textLength="9.80" lengthAdjust="spacingAndGlyphs">0.04</text>
<line x1="244.70" y1="148.70" x2="247.20" y2="148.70" stroke="#2b2b2b" stroke-width="0.9" />
<text x="244.20" y="150.50" font-size="5.00" fill="#2b2b2b" font-weight="bold" text-anchor="end" stroke="#2b2b2b" stroke-width="0.06" textLength="9.80" lengthAdjust="spacingAndGlyphs">0.05</text>
<line x1="245.90" y1="238.35" x2="247.20" y2="238.35" stroke="#2b2b2b" stroke-width="0.8" />
<line x1="245.90" y1="222.05" x2="247.20" y2="222.05" stroke="#2b2b2b" stroke-width="0.8" />
<line x1="245.90" y1="205.75" x2="247.20" y2="205.75" stroke="#2b2b2b" stroke-width="0.8" />
<line x1="245.90" y1="189.45" x2="247.20" y2="189.45" stroke="#2b2b2b" stroke-width="0.8" />
<line x1="245.90" y1="173.15" x2="247.20" y2="173.15" stroke="#2b2b2b" stroke-width="0.8" />
<line x1="245.90" y1="156.85" x2="247.20" y2="156.85" stroke="#2b2b2b" stroke-width="0.8" />
<line x1="252.40" y1="246.50" x2="252.40" y2="248.80" stroke="#2b2b2b" stroke-width="0.9" />
<text x="252.40" y="254.71" font-size="5.30" fill="#2b2b2b" font-weight="bold" text-anchor="middle" stroke="#2b2b2b" stroke-width="0.06">0</text>
<line x1="270.27" y1="246.50" x2="270.27" y2="248.80" stroke="#2b2b2b" stroke-width="0.9" />
<text x="270.27" y="254.71" font-size="5.30" fill="#2b2b2b" font-weight="bold" text-anchor="middle" stroke="#2b2b2b" stroke-width="0.06">10</text>
<line x1="288.14" y1="246.50" x2="288.14" y2="248.80" stroke="#2b2b2b" stroke-width="0.9" />
<text x="288.14" y="254.71" font-size="5.30" fill="#2b2b2b" font-weight="bold" text-anchor="middle" stroke="#2b2b2b" stroke-width="0.06">20</text>
<line x1="306.01" y1="246.50" x2="306.01" y2="248.80" stroke="#2b2b2b" stroke-width="0.9" />
<text x="306.01" y="254.71" font-size="5.30" fill="#2b2b2b" font-weight="bold" text-anchor="middle" stroke="#2b2b2b" stroke-width="0.06">30</text>
<line x1="323.88" y1="246.50" x2="323.88" y2="248.80" stroke="#2b2b2b" stroke-width="0.9" />
<text x="323.88" y="254.71" font-size="5.30" fill="#2b2b2b" font-weight="bold" text-anchor="middle" stroke="#2b2b2b" stroke-width="0.06">40</text>
<line x1="341.75" y1="246.50" x2="341.75" y2="248.80" stroke="#2b2b2b" stroke-width="0.9" />
<text x="341.75" y="254.71" font-size="5.30" fill="#2b2b2b" font-weight="bold" text-anchor="middle" stroke="#2b2b2b" stroke-width="0.06">50</text>
<line x1="359.62" y1="246.50" x2="359.62" y2="248.80" stroke="#2b2b2b" stroke-width="0.9" />
<text x="359.62" y="254.71" font-size="5.30" fill="#2b2b2b" font-weight="bold" text-anchor="middle" stroke="#2b2b2b" stroke-width="0.06">60</text>
<line x1="261.33" y1="246.50" x2="261.33" y2="247.80" stroke="#2b2b2b" stroke-width="0.8" />
<line x1="279.20" y1="246.50" x2="279.20" y2="247.80" stroke="#2b2b2b" stroke-width="0.8" />
<line x1="297.07" y1="246.50" x2="297.07" y2="247.80" stroke="#2b2b2b" stroke-width="0.8" />
<line x1="314.94" y1="246.50" x2="314.94" y2="247.80" stroke="#2b2b2b" stroke-width="0.8" />
<line x1="332.81" y1="246.50" x2="332.81" y2="247.80" stroke="#2b2b2b" stroke-width="0.8" />
<line x1="350.69" y1="246.50" x2="350.69" y2="247.80" stroke="#2b2b2b" stroke-width="0.8" />
<text x="308.20" y="268.09" font-size="8.30" fill="#111" font-weight="bold" text-anchor="middle" stroke="#111" stroke-width="0.2" textLength="26.70" lengthAdjust="spacingAndGlyphs">Time (s)</text>
<text transform="translate(225.50,200.40) rotate(-90)" x="0" y="2.74" font-size="7.60" fill="#111" font-weight="bold" text-anchor="middle" stroke="#111" stroke-width="0.2" textLength="35.60" lengthAdjust="spacingAndGlyphs">Voltage (V)</text>
<text x="251.50" y="158.90" font-size="6.40" fill="#111" font-weight="bold" text-anchor="start" stroke="#111" stroke-width="0.06" textLength="100.40" lengthAdjust="spacingAndGlyphs">Sodium urate concentration (mg/L)</text>
<line x1="278.80" y1="170.80" x2="278.80" y2="233.00" stroke="#3a3a3a" stroke-width="1.5" stroke-dasharray="4.4 3.95"/>
<line x1="310.60" y1="170.80" x2="310.60" y2="233.00" stroke="#3a3a3a" stroke-width="1.5" stroke-dasharray="4.4 3.95"/>
<line x1="334.60" y1="170.80" x2="334.60" y2="233.00" stroke="#3a3a3a" stroke-width="1.5" stroke-dasharray="4.4 3.95"/>
<polyline points="252.50,229.27 252.06,228.60 251.98,227.97 253.38,227.53 253.01,226.87 252.91,226.25 253.55,225.71 252.94,225.02 253.62,224.49 253.63,223.88 252.85,223.17 252.99,222.57 253.12,221.97 253.12,221.36 253.68,220.81 253.30,220.15 253.60,219.58 253.78,218.98 253.36,218.31 254.52,217.87 253.84,217.16 254.07,216.58 254.33,216.00 254.86,215.47 254.27,214.77 255.05,214.27 254.56,213.59 254.69,212.99 254.76,212.39 254.15,211.69 254.82,211.17 254.54,210.52 255.07,209.99 254.52,209.21 255.74,208.78 255.01,207.97 255.55,207.41 256.02,206.84 255.92,206.15 255.73,205.44 256.12,204.85 256.30,204.22 256.35,203.56 256.95,203.04 256.26,202.10 257.08,201.66 256.88,200.88 257.13,200.25 257.64,199.70 258.39,199.27 258.51,198.43 258.93,197.78 259.83,197.13 259.84,197.79 259.66,198.47 259.54,199.15 260.29,199.69 260.15,200.37 260.40,200.99 260.48,201.63 260.60,202.28 260.46,202.97 260.92,203.55 260.94,204.21 261.11,204.85 261.23,204.20 262.02,203.70 261.84,202.98 262.24,202.40 261.88,201.63 262.69,201.19 262.01,200.24 262.64,199.73 262.78,199.06 262.26,199.79 262.49,200.41 263.56,200.92 263.67,201.56 263.32,202.26 263.92,202.83 263.42,203.56 263.42,202.76 264.07,202.28 263.61,201.52 264.56,201.04 264.84,200.43 265.13,199.81 264.24,198.97 265.13,198.48 265.19,197.82 264.60,197.04 265.75,196.60 265.35,195.85 266.22,195.45 265.50,194.42 266.71,194.16 266.25,193.22 266.64,192.63 266.83,191.99 267.72,191.57 267.72,190.85 267.04,189.91 267.62,189.39 267.92,188.78 268.39,188.15 268.82,187.49 269.29,188.05 269.73,188.62 269.83,189.33 269.85,190.06 270.20,190.65 270.88,190.71 270.47,189.84 271.40,189.45 271.48,188.75 271.78,188.14 271.47,187.21 272.16,186.75 272.68,186.21 273.17,185.65 273.38,184.93 273.71,184.28 273.51,183.35 274.99,183.31 274.74,182.35 275.63,182.99 275.75,183.87 276.53,184.28" fill="none" stroke="#00e8f8" stroke-width="1.1" stroke-linejoin="round" stroke-linecap="round" />
<polyline points="280.78,229.91 282.04,229.56 279.83,228.92 280.28,228.49 279.73,227.99 281.69,227.69 280.41,227.13 280.08,226.64 280.87,226.25 282.18,225.90 281.98,225.43 280.56,224.85 280.32,224.37 282.35,224.08 281.48,223.55 281.86,223.12 280.31,222.54 280.27,222.08 281.94,221.76 281.30,221.24 280.42,220.71 282.70,220.44 281.95,219.92 282.42,219.50 281.68,218.98 280.64,218.44 282.68,218.16 280.67,217.54 282.77,217.27 281.75,216.72 281.49,216.25 282.08,215.85 283.09,215.48 281.42,214.88 281.10,214.40 282.17,214.04 281.46,213.53 281.17,213.05 281.34,212.61 281.09,212.14 281.52,211.72 281.84,211.30 281.87,210.84 283.08,210.49 282.45,209.99 282.03,209.38 282.67,209.02 281.97,208.35 282.51,207.97 281.79,207.29 282.49,206.95 282.01,206.33 283.35,206.13 283.15,206.91 283.84,207.06 284.25,207.42 283.55,206.79 284.37,206.47 285.64,206.24 283.62,205.35 285.53,205.24 284.63,204.58 284.89,204.14 285.85,203.85 284.82,203.16 285.20,202.75 285.28,202.28 285.88,202.00 286.75,201.81 285.32,200.86 286.67,200.83 286.50,200.30 286.47,199.82 286.04,199.20 286.04,198.72 286.56,198.42 287.70,197.92 287.20,199.06 286.41,198.35 286.39,197.86 288.19,197.88 287.11,197.09 287.00,196.57 286.94,196.07 288.96,196.16 289.16,195.73 288.79,195.13 288.49,194.56 288.11,193.90 288.17,193.39 288.46,192.95 289.13,192.63 289.22,192.14 288.67,191.39 289.55,191.21 289.29,190.57 291.16,190.79 291.37,190.34 290.42,189.42 290.74,189.05 290.25,188.27 292.14,188.68 290.83,187.49 291.15,187.11 290.54,186.27 291.64,186.28 292.07,185.96 292.34,185.57 292.57,185.14 292.08,184.36 293.00,184.29 292.05,183.28 292.87,183.15 293.63,182.99 292.89,182.09 293.82,182.02 293.21,181.18 293.38,180.73 294.25,180.62 294.29,180.11 295.33,180.10 295.41,179.60 295.56,179.14 296.36,179.11 296.41,178.59 296.80,178.29 297.41,178.14 296.84,177.21 297.14,176.74 297.50,176.38 298.13,176.57 296.97,177.26 299.19,177.38 297.79,178.11 298.08,178.56 299.70,178.78 297.75,179.60 297.69,180.11 298.77,180.42 299.19,180.03 299.55,179.63 299.84,179.21 298.22,178.40 299.29,178.14 299.33,177.67 299.41,177.21 300.35,177.51 300.62,177.13 300.98,176.85 300.70,175.93 300.58,176.43 299.88,177.04 300.51,177.40 300.57,177.86 301.85,178.08 302.45,178.44 301.34,179.14 300.53,178.44 301.21,178.09 300.68,177.46 302.64,177.41 302.05,176.76 302.34,176.32 302.45,175.84 302.24,175.28 302.22,176.00 302.95,176.12 303.27,176.57 302.25,175.63 304.36,175.94 304.42,175.43 304.01,174.73 304.27,174.31 304.76,173.97 304.56,173.35 305.78,173.47 304.26,174.46 305.61,174.54 306.20,174.85 305.87,175.46 304.87,176.29 305.58,176.57 304.95,175.91 306.42,175.75 307.13,175.40 306.02,174.64 305.85,174.09 306.21,173.66 306.84,173.30 306.48,172.71 305.94,173.35 306.45,173.70 306.51,174.16 308.05,174.21 308.01,174.71 307.87,175.24 306.77,176.03 308.00,176.17 307.47,176.81 307.77,177.21 306.73,176.33 307.01,175.89 307.68,175.57 308.41,175.28" fill="none" stroke="#f01818" stroke-width="1.15" stroke-linejoin="round" stroke-linecap="round" />
<polyline points="310.75,230.18 311.20,229.78 311.32,229.33 311.36,228.87 310.60,228.27 311.17,227.89 311.13,227.42 311.21,226.96 310.54,226.37 312.29,226.19 310.86,225.48 312.63,225.31 312.62,224.83 310.70,224.04 311.73,223.74 312.59,223.42 312.99,223.01 311.94,222.36 312.13,221.92 311.69,221.39 311.63,220.92 313.30,220.69 311.76,220.00 312.63,219.66 311.74,219.06 312.64,218.72 313.64,218.40 311.92,217.68 313.48,217.44 312.87,216.88 313.76,216.54 313.42,216.02 312.46,215.42 313.98,215.17 313.15,214.58 312.21,213.98 312.23,213.51 313.36,213.21 313.33,212.73 313.50,212.29 313.13,211.78 312.83,211.28 313.34,210.87 313.33,210.41 314.53,210.09 312.76,209.40 314.45,209.15 314.70,208.71 313.19,208.06 315.01,207.82 314.60,207.30 315.07,206.90 313.79,206.27 314.03,205.83 314.13,205.38 315.51,205.09 314.67,204.52 314.23,204.00 314.44,203.56 314.16,203.06 313.72,202.54 313.90,202.09 315.55,201.83 314.88,201.28 314.47,200.76 315.95,200.49 314.52,199.83 314.61,199.38 315.21,198.99 314.57,198.44 315.03,198.03 316.36,197.75 316.27,197.27 316.17,196.79 315.84,196.27 316.52,195.90 316.64,195.45 315.84,194.88 316.28,194.47 314.88,193.81 316.43,193.55 315.98,193.03 315.98,192.54 316.74,192.23 316.61,191.72 315.95,191.08 315.55,190.51 317.54,190.49 315.93,189.63 316.78,189.34 316.94,188.90 316.83,188.34 316.93,187.88 318.00,187.88 318.66,187.69 317.91,186.83 318.64,187.02 318.16,187.93 318.73,188.21 318.45,187.60 319.13,187.26 318.92,186.67 318.58,186.05 318.70,185.55 318.94,185.09 319.70,184.77 320.75,184.82 320.33,183.85 320.66,183.39 321.47,183.26 321.49,184.08 322.46,183.78 322.75,183.33 321.67,182.61 321.09,182.00 321.30,181.54 321.18,181.02 321.82,180.64 321.37,180.05 321.79,179.63 322.45,179.27 322.12,178.58 322.94,178.28 323.77,177.99 323.14,177.20 323.07,178.00 324.02,178.00 324.24,178.58 324.71,178.93 324.84,179.53 325.20,179.95 325.84,180.08 326.16,180.64 326.70,180.89 327.45,181.01 327.26,181.65 326.14,182.78 327.27,182.71 326.76,181.91 327.71,181.88 328.18,181.60 328.85,181.43 328.37,180.64 327.99,179.96 328.29,179.60 328.44,179.17 328.94,178.90 329.33,178.58 329.55,178.05 330.79,178.23 330.29,177.20 330.84,177.97 331.39,177.20 331.51,178.24 332.49,177.89 333.68,177.74 333.98,178.22 333.46,179.27 333.48,179.94 334.15,179.95" fill="none" stroke="#1f6ef0" stroke-width="1.15" stroke-linejoin="round" stroke-linecap="round" />
<polyline points="334.83,231.56 335.62,231.16 334.96,230.52 335.25,230.03 334.29,229.34 335.07,228.94 336.11,228.59 336.01,228.04 336.15,227.53 336.45,227.05 335.25,226.32 335.09,225.76 335.25,225.26 335.99,224.85 336.36,224.39 336.91,223.95 336.21,223.30 336.72,222.90 336.72,222.36 337.05,221.91 336.64,221.28 336.93,220.82 336.16,220.10 337.58,219.92 336.74,219.18 338.07,218.98 337.71,218.36 337.59,217.80 337.42,217.17 337.29,216.55 337.68,216.11 338.51,215.81 338.78,215.33 337.96,214.48 338.06,213.94 338.96,213.67 339.23,213.23 339.55,212.82 339.47,212.20 339.43,211.61 340.27,211.46 340.34,210.92 339.72,210.10 340.40,209.80 340.86,209.41 341.89,209.26 341.56,208.55 342.16,208.22 341.71,207.47 342.20,207.90 342.97,208.05 343.09,208.85 343.73,209.11 342.81,210.14 343.45,210.39 344.32,210.53 345.01,210.76 344.47,211.60 344.60,211.11 345.04,210.70 344.74,210.09 344.60,209.52 345.44,209.23 346.03,208.86 345.43,208.16 345.72,207.40 346.53,207.47 346.18,206.49 346.98,206.28 347.44,205.85 347.91,205.41 348.52,205.08 348.14,204.08 349.38,204.16 349.28,203.35 349.84,202.94 349.57,202.32 349.18,201.66 350.65,201.50 349.64,200.68 350.66,200.40 349.78,199.61 350.38,199.22 350.04,198.59 351.11,198.36 350.44,197.64 351.72,197.47 351.06,196.76 350.67,196.12 351.35,195.78 352.02,196.01 351.94,196.63 352.03,197.15 352.46,196.71 353.09,196.33 351.83,195.44 352.40,195.04 352.22,194.44 353.68,194.28 352.38,193.38 353.14,193.03 352.47,192.33 352.61,191.81 353.31,191.43 354.32,191.12 354.41,190.60 354.27,190.03 354.85,189.62 354.10,188.90 355.02,188.60 354.19,187.70 354.14,187.06 355.61,186.96 355.06,186.15 355.69,185.89 354.77,184.85 356.01,184.90 355.78,184.21 356.01,183.75 356.44,183.39 356.68,182.72 356.93,182.06 357.81,182.02 357.87,180.99 358.55,181.20 359.19,181.33 359.60,180.76 360.29,180.64 359.84,181.54 361.44,181.35 360.38,182.58 361.39,182.71 362.11,183.00 362.11,183.63 361.59,184.50 362.36,184.77" fill="none" stroke="#2aa050" stroke-width="1.1" stroke-linejoin="round" stroke-linecap="round" />
<text x="267.00" y="180.40" font-size="5.00" fill="#00e8f8" font-weight="bold" text-anchor="start" stroke="#00e8f8" stroke-width="0.06" textLength="8.60" lengthAdjust="spacingAndGlyphs">62.5</text>
<text x="297.50" y="169.30" font-size="5.00" fill="#f01818" font-weight="bold" text-anchor="start" stroke="#f01818" stroke-width="0.06" textLength="11.10" lengthAdjust="spacingAndGlyphs">125.0</text>
<text x="321.10" y="174.40" font-size="5.00" fill="#1818f0" font-weight="bold" text-anchor="start" stroke="#1818f0" stroke-width="0.06" textLength="10.60" lengthAdjust="spacingAndGlyphs">187.5</text>
<text x="352.10" y="179.30" font-size="5.00" fill="#2a9a3a" font-weight="bold" text-anchor="start" stroke="#2a9a3a" stroke-width="0.06" textLength="11.70" lengthAdjust="spacingAndGlyphs">250.0</text>
<text x="365.40" y="243.66" font-size="6.00" fill="#111" font-weight="bold" text-anchor="end" stroke="#111" stroke-width="0.06" textLength="23.30" lengthAdjust="spacingAndGlyphs">With BOx</text>
<line x1="247.20" y1="149.20" x2="368.70" y2="149.20" stroke="#2b2b2b" stroke-width="1.1" />
<line x1="247.20" y1="246.50" x2="368.70" y2="246.50" stroke="#2b2b2b" stroke-width="1.1" />
<line x1="247.20" y1="148.70" x2="247.20" y2="247.00" stroke="#2b2b2b" stroke-width="1.1" />
<line x1="368.70" y1="148.70" x2="368.70" y2="247.00" stroke="#2b2b2b" stroke-width="1.1" />
<text x="371.80" y="148.90" font-size="12.80" fill="#111" font-weight="normal" text-anchor="start">(f)</text>
<line x1="403.40" y1="246.30" x2="405.90" y2="246.30" stroke="#f01818" stroke-width="0.9" />
<text x="402.40" y="248.10" font-size="5.00" fill="#f01818" font-weight="bold" text-anchor="end" stroke="#f01818" stroke-width="0.06" textLength="10.29" lengthAdjust="spacingAndGlyphs">0.01</text>
<line x1="403.40" y1="226.90" x2="405.90" y2="226.90" stroke="#f01818" stroke-width="0.9" />
<text x="402.40" y="228.70" font-size="5.00" fill="#f01818" font-weight="bold" text-anchor="end" stroke="#f01818" stroke-width="0.06" textLength="10.29" lengthAdjust="spacingAndGlyphs">0.02</text>
<line x1="403.40" y1="207.50" x2="405.90" y2="207.50" stroke="#f01818" stroke-width="0.9" />
<text x="402.40" y="209.30" font-size="5.00" fill="#f01818" font-weight="bold" text-anchor="end" stroke="#f01818" stroke-width="0.06" textLength="10.29" lengthAdjust="spacingAndGlyphs">0.03</text>
<line x1="403.40" y1="188.10" x2="405.90" y2="188.10" stroke="#f01818" stroke-width="0.9" />
<text x="402.40" y="189.90" font-size="5.00" fill="#f01818" font-weight="bold" text-anchor="end" stroke="#f01818" stroke-width="0.06" textLength="10.29" lengthAdjust="spacingAndGlyphs">0.04</text>
<line x1="403.40" y1="168.70" x2="405.90" y2="168.70" stroke="#f01818" stroke-width="0.9" />
<text x="402.40" y="170.50" font-size="5.00" fill="#f01818" font-weight="bold" text-anchor="end" stroke="#f01818" stroke-width="0.06" textLength="10.29" lengthAdjust="spacingAndGlyphs">0.05</text>
<line x1="403.40" y1="149.30" x2="405.90" y2="149.30" stroke="#f01818" stroke-width="0.9" />
<text x="402.40" y="151.10" font-size="5.00" fill="#f01818" font-weight="bold" text-anchor="end" stroke="#f01818" stroke-width="0.06" textLength="10.29" lengthAdjust="spacingAndGlyphs">0.06</text>
<line x1="404.60" y1="236.60" x2="405.90" y2="236.60" stroke="#f01818" stroke-width="0.8" />
<line x1="404.60" y1="217.20" x2="405.90" y2="217.20" stroke="#f01818" stroke-width="0.8" />
<line x1="404.60" y1="197.80" x2="405.90" y2="197.80" stroke="#f01818" stroke-width="0.8" />
<line x1="404.60" y1="178.40" x2="405.90" y2="178.40" stroke="#f01818" stroke-width="0.8" />
<line x1="404.60" y1="159.00" x2="405.90" y2="159.00" stroke="#f01818" stroke-width="0.8" />
<line x1="526.30" y1="245.80" x2="528.80" y2="245.80" stroke="#3535ff" stroke-width="0.9" />
<text x="530.00" y="247.60" font-size="5.00" fill="#3535ff" font-weight="bold" text-anchor="start" stroke="#3535ff" stroke-width="0.06">-20</text>
<line x1="526.30" y1="229.70" x2="528.80" y2="229.70" stroke="#3535ff" stroke-width="0.9" />
<text x="530.00" y="231.50" font-size="5.00" fill="#3535ff" font-weight="bold" text-anchor="start" stroke="#3535ff" stroke-width="0.06">0</text>
<line x1="526.30" y1="213.60" x2="528.80" y2="213.60" stroke="#3535ff" stroke-width="0.9" />
<text x="530.00" y="215.40" font-size="5.00" fill="#3535ff" font-weight="bold" text-anchor="start" stroke="#3535ff" stroke-width="0.06">20</text>
<line x1="526.30" y1="197.50" x2="528.80" y2="197.50" stroke="#3535ff" stroke-width="0.9" />
<text x="530.00" y="199.30" font-size="5.00" fill="#3535ff" font-weight="bold" text-anchor="start" stroke="#3535ff" stroke-width="0.06">40</text>
<line x1="526.30" y1="181.40" x2="528.80" y2="181.40" stroke="#3535ff" stroke-width="0.9" />
<text x="530.00" y="183.20" font-size="5.00" fill="#3535ff" font-weight="bold" text-anchor="start" stroke="#3535ff" stroke-width="0.06">60</text>
<line x1="526.30" y1="165.30" x2="528.80" y2="165.30" stroke="#3535ff" stroke-width="0.9" />
<text x="530.00" y="167.10" font-size="5.00" fill="#3535ff" font-weight="bold" text-anchor="start" stroke="#3535ff" stroke-width="0.06">80</text>
<line x1="526.30" y1="149.20" x2="528.80" y2="149.20" stroke="#3535ff" stroke-width="0.9" />
<text x="530.00" y="151.00" font-size="5.00" fill="#3535ff" font-weight="bold" text-anchor="start" stroke="#3535ff" stroke-width="0.06">100</text>
<line x1="526.30" y1="237.75" x2="527.60" y2="237.75" stroke="#3535ff" stroke-width="0.8" />
<line x1="526.30" y1="221.65" x2="527.60" y2="221.65" stroke="#3535ff" stroke-width="0.8" />
<line x1="526.30" y1="205.55" x2="527.60" y2="205.55" stroke="#3535ff" stroke-width="0.8" />
<line x1="526.30" y1="189.45" x2="527.60" y2="189.45" stroke="#3535ff" stroke-width="0.8" />
<line x1="526.30" y1="173.35" x2="527.60" y2="173.35" stroke="#3535ff" stroke-width="0.8" />
<line x1="526.30" y1="157.25" x2="527.60" y2="157.25" stroke="#3535ff" stroke-width="0.8" />
<line x1="417.64" y1="246.30" x2="417.64" y2="248.60" stroke="#2b2b2b" stroke-width="0.9" />
<text x="417.64" y="254.51" font-size="5.30" fill="#2b2b2b" font-weight="bold" text-anchor="middle" stroke="#2b2b2b" stroke-width="0.06">50</text>
<line x1="441.88" y1="246.30" x2="441.88" y2="248.60" stroke="#2b2b2b" stroke-width="0.9" />
<text x="441.88" y="254.51" font-size="5.30" fill="#2b2b2b" font-weight="bold" text-anchor="middle" stroke="#2b2b2b" stroke-width="0.06">100</text>
<line x1="466.12" y1="246.30" x2="466.12" y2="248.60" stroke="#2b2b2b" stroke-width="0.9" />
<text x="466.12" y="254.51" font-size="5.30" fill="#2b2b2b" font-weight="bold" text-anchor="middle" stroke="#2b2b2b" stroke-width="0.06">150</text>
<line x1="490.36" y1="246.30" x2="490.36" y2="248.60" stroke="#2b2b2b" stroke-width="0.9" />
<text x="490.36" y="254.51" font-size="5.30" fill="#2b2b2b" font-weight="bold" text-anchor="middle" stroke="#2b2b2b" stroke-width="0.06">200</text>
<line x1="514.60" y1="246.30" x2="514.60" y2="248.60" stroke="#2b2b2b" stroke-width="0.9" />
<text x="514.60" y="254.51" font-size="5.30" fill="#2b2b2b" font-weight="bold" text-anchor="middle" stroke="#2b2b2b" stroke-width="0.06">250</text>
<line x1="429.76" y1="246.30" x2="429.76" y2="247.60" stroke="#2b2b2b" stroke-width="0.8" />
<line x1="454.00" y1="246.30" x2="454.00" y2="247.60" stroke="#2b2b2b" stroke-width="0.8" />
<line x1="478.24" y1="246.30" x2="478.24" y2="247.60" stroke="#2b2b2b" stroke-width="0.8" />
<line x1="502.48" y1="246.30" x2="502.48" y2="247.60" stroke="#2b2b2b" stroke-width="0.8" />
<text transform="translate(385.50,197.90) rotate(-90)" x="0" y="2.88" font-size="8.00" fill="#f01818" font-weight="bold" text-anchor="middle" stroke="#f01818" stroke-width="0.2" textLength="38.30" lengthAdjust="spacingAndGlyphs">Voltage (V)</text>
<text transform="translate(544.20,198.00) rotate(-90)" x="0" y="2.88" font-size="8.00" fill="#3535ff" font-weight="bold" text-anchor="middle" stroke="#3535ff" stroke-width="0.2" textLength="45.60" lengthAdjust="spacingAndGlyphs">Response (%)</text>
<text x="415.90" y="266.75" font-size="6.80" fill="#111" font-weight="bold" text-anchor="start" stroke="#111" stroke-width="0.06" textLength="101.00" lengthAdjust="spacingAndGlyphs">Sodium urate concentration (mg/L)</text>
<text x="441.00" y="177.00" font-size="6.40" fill="#111" font-weight="bold" text-anchor="start" stroke="#111" stroke-width="0.06" textLength="51.10" lengthAdjust="spacingAndGlyphs">Add Sodium urate</text>
<line x1="433.20" y1="178.30" x2="495.80" y2="178.30" stroke="#111" stroke-width="0.9" />
<polygon points="500.30,178.30 495.80,179.90 495.80,176.70" fill="#111" stroke="#111" stroke-width="0.3" stroke-linejoin="round"/>
<text x="454.20" y="242.90" font-size="6.40" fill="#111" font-weight="bold" text-anchor="start" stroke="#111" stroke-width="0.06" textLength="26.70" lengthAdjust="spacingAndGlyphs">With BOx</text>
<polyline points="424.10,213.50 454.30,204.80 484.70,211.70 514.60,210.00" fill="none" stroke="#f01818" stroke-width="1.1" stroke-linejoin="round" stroke-linecap="round" />
<line x1="424.10" y1="207.30" x2="424.10" y2="219.30" stroke="#f01818" stroke-width="0.9" />
<line x1="423.30" y1="207.30" x2="424.90" y2="207.30" stroke="#f01818" stroke-width="0.9" />
<line x1="423.30" y1="219.30" x2="424.90" y2="219.30" stroke="#f01818" stroke-width="0.9" />
<circle cx="424.10" cy="213.50" r="1.1" fill="#f01818"/>
<line x1="454.30" y1="194.70" x2="454.30" y2="214.40" stroke="#f01818" stroke-width="0.9" />
<line x1="453.50" y1="194.70" x2="455.10" y2="194.70" stroke="#f01818" stroke-width="0.9" />
<line x1="453.50" y1="214.40" x2="455.10" y2="214.40" stroke="#f01818" stroke-width="0.9" />
<circle cx="454.30" cy="204.80" r="1.1" fill="#f01818"/>
<line x1="484.70" y1="207.60" x2="484.70" y2="215.90" stroke="#f01818" stroke-width="0.9" />
<line x1="483.90" y1="207.60" x2="485.50" y2="207.60" stroke="#f01818" stroke-width="0.9" />
<line x1="483.90" y1="215.90" x2="485.50" y2="215.90" stroke="#f01818" stroke-width="0.9" />
<circle cx="484.70" cy="211.70" r="1.1" fill="#f01818"/>
<line x1="514.60" y1="205.20" x2="514.60" y2="215.20" stroke="#f01818" stroke-width="0.9" />
<line x1="513.80" y1="205.20" x2="515.40" y2="205.20" stroke="#f01818" stroke-width="0.9" />
<line x1="513.80" y1="215.20" x2="515.40" y2="215.20" stroke="#f01818" stroke-width="0.9" />
<circle cx="514.60" cy="210.00" r="1.1" fill="#f01818"/>
<polyline points="424.10,230.60 454.30,216.70 484.70,228.00 514.60,225.60" fill="none" stroke="#3535ff" stroke-width="1.1" stroke-linejoin="round" stroke-linecap="round" />
<circle cx="424.10" cy="230.60" r="1.2" fill="#3535ff"/>
<circle cx="454.30" cy="216.70" r="1.2" fill="#3535ff"/>
<circle cx="484.70" cy="228.00" r="1.2" fill="#3535ff"/>
<circle cx="514.60" cy="225.60" r="1.2" fill="#3535ff"/>
<line x1="405.90" y1="149.20" x2="526.30" y2="149.20" stroke="#2b2b2b" stroke-width="1.1" />
<line x1="405.90" y1="246.30" x2="526.30" y2="246.30" stroke="#2b2b2b" stroke-width="1.1" />
<line x1="405.90" y1="148.70" x2="405.90" y2="246.80" stroke="#f01818" stroke-width="1.1" />
<line x1="526.30" y1="148.70" x2="526.30" y2="246.80" stroke="#3535ff" stroke-width="1.1" />
<text x="9.60" y="283.00" font-size="13.60" fill="#111" font-weight="normal" text-anchor="start" font-family='"Liberation Serif", serif' textLength="15.20" lengthAdjust="spacingAndGlyphs">(g)</text>
<line x1="18.80" y1="322.00" x2="89.40" y2="300.20" stroke="#222" stroke-width="0.8" />
<line x1="89.40" y1="300.20" x2="169.80" y2="320.30" stroke="#222" stroke-width="0.8" />
<line x1="89.40" y1="300.20" x2="88.50" y2="400.00" stroke="#222" stroke-width="0.8" />
<line x1="169.80" y1="320.30" x2="163.30" y2="432.80" stroke="#222" stroke-width="0.8" />
<line x1="24.70" y1="439.30" x2="88.50" y2="400.00" stroke="#222" stroke-width="0.8" />
<line x1="88.50" y1="400.00" x2="163.30" y2="432.80" stroke="#222" stroke-width="0.8" />
<line x1="18.80" y1="322.00" x2="24.70" y2="439.30" stroke="#222" stroke-width="0.9" />
<line x1="24.70" y1="439.30" x2="101.20" y2="480.90" stroke="#222" stroke-width="0.9" />
<line x1="101.20" y1="480.90" x2="163.30" y2="432.80" stroke="#222" stroke-width="0.9" />
<line x1="17.38" y1="323.50" x2="18.88" y2="323.50" stroke="#222" stroke-width="0.7" />
<text transform="translate(13.88,324.90) rotate(-15) skewX(-12)" x="0" y="2.1" font-size="5.8" text-anchor="middle" fill="#2a2a2a" font-weight="bold" textLength="5.2" lengthAdjust="spacingAndGlyphs">80</text>
<line x1="18.17" y1="339.30" x2="19.67" y2="339.30" stroke="#222" stroke-width="0.7" />
<text transform="translate(14.67,340.70) rotate(-15) skewX(-12)" x="0" y="2.1" font-size="5.8" text-anchor="middle" fill="#2a2a2a" font-weight="bold" textLength="5.2" lengthAdjust="spacingAndGlyphs">70</text>
<line x1="18.93" y1="354.50" x2="20.43" y2="354.50" stroke="#222" stroke-width="0.7" />
<text transform="translate(15.43,355.90) rotate(-15) skewX(-12)" x="0" y="2.1" font-size="5.8" text-anchor="middle" fill="#2a2a2a" font-weight="bold" textLength="5.2" lengthAdjust="spacingAndGlyphs">60</text>
<line x1="19.70" y1="369.80" x2="21.20" y2="369.80" stroke="#222" stroke-width="0.7" />
<text transform="translate(16.20,371.20) rotate(-15) skewX(-12)" x="0" y="2.1" font-size="5.8" text-anchor="middle" fill="#2a2a2a" font-weight="bold" textLength="5.2" lengthAdjust="spacingAndGlyphs">50</text>
<line x1="20.48" y1="385.30" x2="21.98" y2="385.30" stroke="#222" stroke-width="0.7" />
<text transform="translate(16.98,386.70) rotate(-15) skewX(-12)" x="0" y="2.1" font-size="5.8" text-anchor="middle" fill="#2a2a2a" font-weight="bold" textLength="5.2" lengthAdjust="spacingAndGlyphs">40</text>
<line x1="21.22" y1="400.00" x2="22.72" y2="400.00" stroke="#222" stroke-width="0.7" />
<text transform="translate(17.72,401.40) rotate(-15) skewX(-12)" x="0" y="2.1" font-size="5.8" text-anchor="middle" fill="#2a2a2a" font-weight="bold" textLength="5.2" lengthAdjust="spacingAndGlyphs">30</text>
<line x1="21.93" y1="414.00" x2="23.43" y2="414.00" stroke="#222" stroke-width="0.7" />
<text transform="translate(18.43,415.40) rotate(-15) skewX(-12)" x="0" y="2.1" font-size="5.8" text-anchor="middle" fill="#2a2a2a" font-weight="bold" textLength="5.2" lengthAdjust="spacingAndGlyphs">20</text>
<line x1="22.59" y1="427.20" x2="24.09" y2="427.20" stroke="#222" stroke-width="0.7" />
<text transform="translate(19.09,428.60) rotate(-15) skewX(-12)" x="0" y="2.1" font-size="5.8" text-anchor="middle" fill="#2a2a2a" font-weight="bold" textLength="5.2" lengthAdjust="spacingAndGlyphs">10</text>
<line x1="23.20" y1="439.30" x2="24.70" y2="439.30" stroke="#222" stroke-width="0.7" />
<text transform="translate(19.70,440.70) rotate(-15) skewX(-12)" x="0" y="2.1" font-size="5.8" text-anchor="middle" fill="#2a2a2a" font-weight="bold" textLength="2.6" lengthAdjust="spacingAndGlyphs">0</text>
<text transform="translate(7.9,389.3) rotate(90)" x="0" y="2.45" font-size="6.8" font-weight="bold" text-anchor="middle" fill="#222" stroke="#222" stroke-width="0.2" textLength="56.6" lengthAdjust="spacingAndGlyphs">Response (%)</text>
<line x1="30.50" y1="442.60" x2="29.30" y2="444.60" stroke="#222" stroke-width="0.6" />
<text transform="translate(28.70,447.20) rotate(-60)" font-size="3.6" text-anchor="middle" fill="#333">1</text>
<line x1="48.50" y1="452.40" x2="47.30" y2="454.40" stroke="#222" stroke-width="0.6" />
<text transform="translate(46.70,457.00) rotate(-60)" font-size="3.6" text-anchor="middle" fill="#333">2</text>
<line x1="67.50" y1="462.60" x2="66.30" y2="464.60" stroke="#222" stroke-width="0.6" />
<text transform="translate(65.70,467.20) rotate(-60)" font-size="3.6" text-anchor="middle" fill="#333">3</text>
<line x1="88.00" y1="473.60" x2="86.80" y2="475.60" stroke="#222" stroke-width="0.6" />
<text transform="translate(86.20,478.20) rotate(-60)" font-size="3.6" text-anchor="middle" fill="#333">4</text>
<line x1="110.50" y1="475.40" x2="112.50" y2="476.80" stroke="#222" stroke-width="0.6" />
<text transform="translate(113.70,475.20) rotate(26)" x="0" y="2.2" font-size="6.0" font-weight="bold" fill="#222" stroke="#222" stroke-width="0.25" textLength="14.4" lengthAdjust="spacingAndGlyphs">NaCl</text>
<line x1="127.40" y1="462.90" x2="129.40" y2="464.30" stroke="#222" stroke-width="0.6" />
<text transform="translate(130.60,462.70) rotate(26)" x="0" y="2.2" font-size="6.0" font-weight="bold" fill="#222" stroke="#222" stroke-width="0.25" textLength="43.8" lengthAdjust="spacingAndGlyphs">Sodium urate</text>
<line x1="142.00" y1="450.40" x2="144.00" y2="451.80" stroke="#222" stroke-width="0.6" />
<text transform="translate(145.20,450.20) rotate(26)" x="0" y="2.2" font-size="6.0" font-weight="bold" fill="#222" stroke="#222" stroke-width="0.25" textLength="14.6" lengthAdjust="spacingAndGlyphs">Urea</text>
<line x1="156.70" y1="439.20" x2="158.70" y2="440.60" stroke="#222" stroke-width="0.6" />
<text transform="translate(159.90,439.00) rotate(26)" x="0" y="2.2" font-size="6.0" font-weight="bold" fill="#222" stroke="#222" stroke-width="0.25" textLength="52.0" lengthAdjust="spacingAndGlyphs">Sodium bilirubin</text>
<text transform="translate(19.2,451.6) rotate(26.6)" x="0" y="0" font-size="8.0" font-weight="bold" font-style="italic" fill="#333" stroke="#333" stroke-width="0.2" textLength="72" lengthAdjust="spacingAndGlyphs">Concentration increase</text>
<line x1="59.10" y1="475.10" x2="34.62" y2="462.01" stroke="#333" stroke-width="0.8" />
<polygon points="31.80,460.50 35.28,460.77 33.96,463.24" fill="#333" stroke="#333" stroke-width="0.3" stroke-linejoin="round"/>
<polygon points="82.50,314.60 91.10,317.40 91.40,413.30 83.00,411.60" fill="#ff14ff" stroke="#222" stroke-width="0.45" stroke-linejoin="round"/>
<polygon points="91.10,317.40 99.30,314.20 98.70,409.70 91.40,413.30" fill="#a400a8" stroke="#222" stroke-width="0.45" stroke-linejoin="round"/>
<polygon points="82.50,314.60 89.20,312.30 99.30,314.20 91.10,317.40" fill="#c800cc" stroke="#222" stroke-width="0.45" stroke-linejoin="round"/>
<polygon points="101.00,359.30 109.90,362.20 109.60,419.00 100.80,417.40" fill="#ff14ff" stroke="#222" stroke-width="0.45" stroke-linejoin="round"/>
<polygon points="109.90,362.20 117.30,359.30 117.10,416.00 109.60,419.00" fill="#a400a8" stroke="#222" stroke-width="0.45" stroke-linejoin="round"/>
<polygon points="101.00,359.30 108.30,356.30 117.30,359.30 109.90,362.20" fill="#c800cc" stroke="#222" stroke-width="0.45" stroke-linejoin="round"/>
<polygon points="67.70,405.40 76.00,409.40 76.00,422.30 67.70,420.00" fill="#ff8a0a" stroke="#222" stroke-width="0.45" stroke-linejoin="round"/>
<polygon points="76.00,409.40 83.80,405.20 83.80,418.40 76.00,422.30" fill="#b35c08" stroke="#222" stroke-width="0.45" stroke-linejoin="round"/>
<polygon points="67.70,405.40 74.80,401.10 83.80,405.20 76.00,409.40" fill="#c86a14" stroke="#222" stroke-width="0.45" stroke-linejoin="round"/>
<polygon points="119.30,398.80 128.00,402.40 128.00,429.50 120.90,427.20" fill="#ff14ff" stroke="#222" stroke-width="0.45" stroke-linejoin="round"/>
<polygon points="128.00,402.40 135.60,398.80 135.30,426.30 128.00,429.50" fill="#a400a8" stroke="#222" stroke-width="0.45" stroke-linejoin="round"/>
<polygon points="119.30,398.80 126.60,394.60 135.60,398.80 128.00,402.40" fill="#c800cc" stroke="#222" stroke-width="0.45" stroke-linejoin="round"/>
<polygon points="84.00,426.00 92.50,430.00 92.50,431.00 84.00,427.00" fill="#e0641e" stroke="#222" stroke-width="0.45" stroke-linejoin="round"/>
<polygon points="92.50,430.00 100.50,425.80 100.50,426.80 92.50,431.00" fill="#a04a10" stroke="#222" stroke-width="0.45" stroke-linejoin="round"/>
<polygon points="84.00,426.00 91.50,422.00 100.50,425.80 92.50,430.00" fill="#e0641e" stroke="#222" stroke-width="0.45" stroke-linejoin="round"/>
<polygon points="51.20,420.50 60.50,424.80 60.50,432.10 51.20,429.80" fill="#14ff14" stroke="#222" stroke-width="0.45" stroke-linejoin="round"/>
<polygon points="60.50,424.80 67.80,420.30 67.80,429.30 60.50,432.10" fill="#12a212" stroke="#222" stroke-width="0.45" stroke-linejoin="round"/>
<polygon points="51.20,420.50 58.50,416.30 67.80,420.30 60.50,424.80" fill="#1ed41e" stroke="#222" stroke-width="0.45" stroke-linejoin="round"/>
<polygon points="138.30,433.80 146.60,437.60 146.60,438.30 138.30,434.40" fill="#cc00cc" stroke="#222" stroke-width="0.45" stroke-linejoin="round"/>
<polygon points="146.60,437.60 154.40,432.90 154.40,433.50 146.60,438.30" fill="#880088" stroke="#222" stroke-width="0.45" stroke-linejoin="round"/>
<polygon points="138.30,433.80 145.40,429.30 154.40,432.90 146.60,437.60" fill="#cc00cc" stroke="#222" stroke-width="0.45" stroke-linejoin="round"/>
<polygon points="104.20,408.80 113.50,412.10 112.80,439.30 104.30,436.80" fill="#ff8a0a" stroke="#222" stroke-width="0.45" stroke-linejoin="round"/>
<polygon points="113.50,412.10 121.10,407.90 121.00,436.20 112.80,439.30" fill="#b35c08" stroke="#222" stroke-width="0.45" stroke-linejoin="round"/>
<polygon points="104.20,408.80 111.20,404.30 121.10,407.90 113.50,412.10" fill="#c86a14" stroke="#222" stroke-width="0.45" stroke-linejoin="round"/>
<polygon points="69.20,433.60 77.80,437.20 77.80,441.50 69.20,438.00" fill="#14ff14" stroke="#222" stroke-width="0.45" stroke-linejoin="round"/>
<polygon points="77.80,437.20 85.50,433.10 85.50,437.50 77.80,441.50" fill="#12a212" stroke="#222" stroke-width="0.45" stroke-linejoin="round"/>
<polygon points="69.20,433.60 76.50,428.50 85.50,433.10 77.80,437.20" fill="#1ed41e" stroke="#222" stroke-width="0.45" stroke-linejoin="round"/>
<polygon points="33.50,437.20 42.50,441.30 42.50,443.30 33.50,439.20" fill="#1010ff" stroke="#222" stroke-width="0.45" stroke-linejoin="round"/>
<polygon points="42.50,441.30 50.80,436.60 50.80,438.60 42.50,443.30" fill="#00009a" stroke="#222" stroke-width="0.45" stroke-linejoin="round"/>
<polygon points="33.50,437.20 41.80,431.50 50.80,436.60 42.50,441.30" fill="#0000c8" stroke="#222" stroke-width="0.45" stroke-linejoin="round"/>
<polygon points="124.20,444.70 133.80,449.20 133.80,449.90 124.20,445.30" fill="#c8641e" stroke="#222" stroke-width="0.45" stroke-linejoin="round"/>
<polygon points="133.80,449.20 140.90,444.00 140.90,444.60 133.80,449.90" fill="#8a4010" stroke="#222" stroke-width="0.45" stroke-linejoin="round"/>
<polygon points="124.20,444.70 130.60,439.80 140.90,444.00 133.80,449.20" fill="#c8641e" stroke="#222" stroke-width="0.45" stroke-linejoin="round"/>
<polygon points="87.60,423.30 97.40,427.20 97.60,451.10 87.60,448.50" fill="#14ff14" stroke="#222" stroke-width="0.45" stroke-linejoin="round"/>
<polygon points="97.40,427.20 105.30,423.20 105.50,447.90 97.60,451.10" fill="#12a212" stroke="#222" stroke-width="0.45" stroke-linejoin="round"/>
<polygon points="87.60,423.30 94.00,418.70 105.30,423.20 97.40,427.20" fill="#1ed41e" stroke="#222" stroke-width="0.45" stroke-linejoin="round"/>
<polygon points="51.20,443.40 61.00,448.20 61.00,452.70 51.20,447.60" fill="#1010ff" stroke="#222" stroke-width="0.45" stroke-linejoin="round"/>
<polygon points="61.00,448.20 68.80,443.00 68.80,447.20 61.00,452.70" fill="#00009a" stroke="#222" stroke-width="0.45" stroke-linejoin="round"/>
<polygon points="51.20,443.40 60.50,437.90 68.80,443.00 61.00,448.20" fill="#0000c8" stroke="#222" stroke-width="0.45" stroke-linejoin="round"/>
<polygon points="108.10,455.60 118.40,460.70 118.40,461.40 108.10,456.20" fill="#22b422" stroke="#222" stroke-width="0.45" stroke-linejoin="round"/>
<polygon points="118.40,460.70 125.80,455.20 125.80,455.80 118.40,461.40" fill="#107010" stroke="#222" stroke-width="0.45" stroke-linejoin="round"/>
<polygon points="108.10,455.60 116.50,450.80 125.80,455.20 118.40,460.70" fill="#22b422" stroke="#222" stroke-width="0.45" stroke-linejoin="round"/>
<polygon points="70.10,455.20 80.50,459.70 80.50,462.90 70.10,458.40" fill="#1010ff" stroke="#222" stroke-width="0.45" stroke-linejoin="round"/>
<polygon points="80.50,459.70 88.70,454.60 88.70,457.80 80.50,462.90" fill="#00009a" stroke="#222" stroke-width="0.45" stroke-linejoin="round"/>
<polygon points="70.10,455.20 79.70,449.40 88.70,454.60 80.50,459.70" fill="#0000c8" stroke="#222" stroke-width="0.45" stroke-linejoin="round"/>
<polygon points="90.80,469.10 101.70,474.20 101.70,475.00 90.80,469.80" fill="#0000cc" stroke="#222" stroke-width="0.45" stroke-linejoin="round"/>
<polygon points="101.70,474.20 109.40,468.40 109.40,469.10 101.70,475.00" fill="#000080" stroke="#222" stroke-width="0.45" stroke-linejoin="round"/>
<polygon points="90.80,469.10 99.10,463.30 109.40,468.40 101.70,474.20" fill="#0000cc" stroke="#222" stroke-width="0.45" stroke-linejoin="round"/>
<text x="206.80" y="283.60" font-size="12.80" fill="#111" font-weight="normal" text-anchor="start">(h)</text>
<line x1="244.70" y1="383.10" x2="247.20" y2="383.10" stroke="#2b2b2b" stroke-width="0.9" />
<text x="245.00" y="384.94" font-size="5.10" fill="#2b2b2b" font-weight="bold" text-anchor="end" stroke="#2b2b2b" stroke-width="0.06" textLength="16.02" lengthAdjust="spacingAndGlyphs">-0.010</text>
<line x1="244.70" y1="367.00" x2="247.20" y2="367.00" stroke="#2b2b2b" stroke-width="0.9" />
<text x="245.00" y="368.84" font-size="5.10" fill="#2b2b2b" font-weight="bold" text-anchor="end" stroke="#2b2b2b" stroke-width="0.06" textLength="16.02" lengthAdjust="spacingAndGlyphs">-0.005</text>
<line x1="244.70" y1="350.90" x2="247.20" y2="350.90" stroke="#2b2b2b" stroke-width="0.9" />
<text x="245.00" y="352.74" font-size="5.10" fill="#2b2b2b" font-weight="bold" text-anchor="end" stroke="#2b2b2b" stroke-width="0.06" textLength="13.99" lengthAdjust="spacingAndGlyphs">0.000</text>
<line x1="244.70" y1="334.80" x2="247.20" y2="334.80" stroke="#2b2b2b" stroke-width="0.9" />
<text x="245.00" y="336.64" font-size="5.10" fill="#2b2b2b" font-weight="bold" text-anchor="end" stroke="#2b2b2b" stroke-width="0.06" textLength="13.99" lengthAdjust="spacingAndGlyphs">0.005</text>
<line x1="244.70" y1="318.70" x2="247.20" y2="318.70" stroke="#2b2b2b" stroke-width="0.9" />
<text x="245.00" y="320.54" font-size="5.10" fill="#2b2b2b" font-weight="bold" text-anchor="end" stroke="#2b2b2b" stroke-width="0.06" textLength="13.99" lengthAdjust="spacingAndGlyphs">0.010</text>
<line x1="244.70" y1="302.60" x2="247.20" y2="302.60" stroke="#2b2b2b" stroke-width="0.9" />
<text x="245.00" y="304.44" font-size="5.10" fill="#2b2b2b" font-weight="bold" text-anchor="end" stroke="#2b2b2b" stroke-width="0.06" textLength="13.99" lengthAdjust="spacingAndGlyphs">0.015</text>
<line x1="244.70" y1="286.50" x2="247.20" y2="286.50" stroke="#2b2b2b" stroke-width="0.9" />
<text x="245.00" y="288.34" font-size="5.10" fill="#2b2b2b" font-weight="bold" text-anchor="end" stroke="#2b2b2b" stroke-width="0.06" textLength="13.99" lengthAdjust="spacingAndGlyphs">0.020</text>
<line x1="245.90" y1="375.05" x2="247.20" y2="375.05" stroke="#2b2b2b" stroke-width="0.8" />
<line x1="245.90" y1="358.95" x2="247.20" y2="358.95" stroke="#2b2b2b" stroke-width="0.8" />
<line x1="245.90" y1="342.85" x2="247.20" y2="342.85" stroke="#2b2b2b" stroke-width="0.8" />
<line x1="245.90" y1="326.75" x2="247.20" y2="326.75" stroke="#2b2b2b" stroke-width="0.8" />
<line x1="245.90" y1="310.65" x2="247.20" y2="310.65" stroke="#2b2b2b" stroke-width="0.8" />
<line x1="245.90" y1="294.55" x2="247.20" y2="294.55" stroke="#2b2b2b" stroke-width="0.8" />
<line x1="254.60" y1="383.30" x2="254.60" y2="385.60" stroke="#2b2b2b" stroke-width="0.9" />
<text x="254.60" y="391.72" font-size="5.60" fill="#2b2b2b" font-weight="bold" text-anchor="middle" stroke="#2b2b2b" stroke-width="0.06" textLength="2.80" lengthAdjust="spacingAndGlyphs">0</text>
<line x1="268.88" y1="383.30" x2="268.88" y2="385.60" stroke="#2b2b2b" stroke-width="0.9" />
<text x="268.88" y="391.72" font-size="5.60" fill="#2b2b2b" font-weight="bold" text-anchor="middle" stroke="#2b2b2b" stroke-width="0.06" textLength="2.80" lengthAdjust="spacingAndGlyphs">5</text>
<line x1="283.17" y1="383.30" x2="283.17" y2="385.60" stroke="#2b2b2b" stroke-width="0.9" />
<text x="283.17" y="391.72" font-size="5.60" fill="#2b2b2b" font-weight="bold" text-anchor="middle" stroke="#2b2b2b" stroke-width="0.06" textLength="5.60" lengthAdjust="spacingAndGlyphs">10</text>
<line x1="297.45" y1="383.30" x2="297.45" y2="385.60" stroke="#2b2b2b" stroke-width="0.9" />
<text x="297.45" y="391.72" font-size="5.60" fill="#2b2b2b" font-weight="bold" text-anchor="middle" stroke="#2b2b2b" stroke-width="0.06" textLength="5.60" lengthAdjust="spacingAndGlyphs">15</text>
<line x1="311.74" y1="383.30" x2="311.74" y2="385.60" stroke="#2b2b2b" stroke-width="0.9" />
<text x="311.74" y="391.72" font-size="5.60" fill="#2b2b2b" font-weight="bold" text-anchor="middle" stroke="#2b2b2b" stroke-width="0.06" textLength="5.60" lengthAdjust="spacingAndGlyphs">20</text>
<line x1="326.02" y1="383.30" x2="326.02" y2="385.60" stroke="#2b2b2b" stroke-width="0.9" />
<text x="326.02" y="391.72" font-size="5.60" fill="#2b2b2b" font-weight="bold" text-anchor="middle" stroke="#2b2b2b" stroke-width="0.06" textLength="5.60" lengthAdjust="spacingAndGlyphs">25</text>
<line x1="340.31" y1="383.30" x2="340.31" y2="385.60" stroke="#2b2b2b" stroke-width="0.9" />
<text x="340.31" y="391.72" font-size="5.60" fill="#2b2b2b" font-weight="bold" text-anchor="middle" stroke="#2b2b2b" stroke-width="0.06" textLength="5.60" lengthAdjust="spacingAndGlyphs">30</text>
<line x1="354.60" y1="383.30" x2="354.60" y2="385.60" stroke="#2b2b2b" stroke-width="0.9" />
<text x="354.60" y="391.72" font-size="5.60" fill="#2b2b2b" font-weight="bold" text-anchor="middle" stroke="#2b2b2b" stroke-width="0.06" textLength="5.60" lengthAdjust="spacingAndGlyphs">35</text>
<line x1="368.88" y1="383.30" x2="368.88" y2="385.60" stroke="#2b2b2b" stroke-width="0.9" />
<text x="368.88" y="391.72" font-size="5.60" fill="#2b2b2b" font-weight="bold" text-anchor="middle" stroke="#2b2b2b" stroke-width="0.06" textLength="5.60" lengthAdjust="spacingAndGlyphs">40</text>
<line x1="261.74" y1="383.30" x2="261.74" y2="384.60" stroke="#2b2b2b" stroke-width="0.8" />
<line x1="276.03" y1="383.30" x2="276.03" y2="384.60" stroke="#2b2b2b" stroke-width="0.8" />
<line x1="290.31" y1="383.30" x2="290.31" y2="384.60" stroke="#2b2b2b" stroke-width="0.8" />
<line x1="304.60" y1="383.30" x2="304.60" y2="384.60" stroke="#2b2b2b" stroke-width="0.8" />
<line x1="318.88" y1="383.30" x2="318.88" y2="384.60" stroke="#2b2b2b" stroke-width="0.8" />
<line x1="333.17" y1="383.30" x2="333.17" y2="384.60" stroke="#2b2b2b" stroke-width="0.8" />
<line x1="347.45" y1="383.30" x2="347.45" y2="384.60" stroke="#2b2b2b" stroke-width="0.8" />
<line x1="361.74" y1="383.30" x2="361.74" y2="384.60" stroke="#2b2b2b" stroke-width="0.8" />
<text x="308.40" y="404.39" font-size="8.30" fill="#111" font-weight="bold" text-anchor="middle" stroke="#111" stroke-width="0.2" textLength="26.90" lengthAdjust="spacingAndGlyphs">Time (s)</text>
<text transform="translate(222.90,334.60) rotate(-90)" x="0" y="2.88" font-size="8.00" fill="#111" font-weight="bold" text-anchor="middle" stroke="#111" stroke-width="0.2" textLength="38.80" lengthAdjust="spacingAndGlyphs">Voltage (V)</text>
<text x="251.80" y="297.10" font-size="6.40" fill="#111" font-weight="bold" text-anchor="start" stroke="#111" stroke-width="0.06" textLength="70.00" lengthAdjust="spacingAndGlyphs">Urea concentration (g/L)</text>
<line x1="288.00" y1="308.40" x2="288.00" y2="361.50" stroke="#3a3a3a" stroke-width="1.5" stroke-dasharray="4.4 5.2"/>
<line x1="310.60" y1="308.40" x2="310.60" y2="361.50" stroke="#3a3a3a" stroke-width="1.5" stroke-dasharray="4.4 5.2"/>
<line x1="338.60" y1="308.40" x2="338.60" y2="361.50" stroke="#3a3a3a" stroke-width="1.5" stroke-dasharray="4.4 5.2"/>
<polyline points="255.50,350.64 255.96,350.14 255.56,349.53 255.17,348.93 255.75,348.44 255.70,347.87 256.42,347.40 255.62,346.75 256.06,346.24 256.05,345.65 256.82,345.27 255.97,344.44 256.57,344.01 256.83,343.49 257.48,343.13 257.49,342.39 257.94,341.92 257.25,341.14 257.93,340.74 258.59,341.29 258.17,340.61 258.33,340.07 259.46,339.75 258.82,339.02 259.52,338.60 259.36,337.98 259.97,337.56 259.48,336.83 259.56,336.26 260.50,335.93 260.13,335.23 260.58,334.75 260.79,334.13 260.94,333.42 261.56,333.03 261.50,333.66 262.14,334.06 262.11,334.68 262.03,334.05 261.90,333.40 262.93,333.12 263.29,332.63 262.99,331.93 263.24,331.40 263.69,330.91 262.69,330.19 263.03,329.68 263.43,329.18 263.53,328.62 264.23,328.20 264.36,327.65 263.83,326.94 264.09,326.42 264.48,326.92 264.37,327.51 264.39,328.07 263.97,328.71 264.95,329.11 264.31,329.79 264.48,330.33 264.86,330.83 265.47,330.44 265.67,329.86 265.63,329.18 266.01,329.56 266.51,329.73 266.63,329.08 266.91,328.52 267.40,328.07 267.71,328.58 267.38,329.27 268.34,329.59 268.36,330.18 268.17,330.83 268.64,330.38 268.26,329.63 268.25,329.00 268.94,328.62 269.08,327.88 269.82,328.07 270.29,327.85 270.70,327.52 271.47,326.97 271.46,326.35 272.40,326.06 272.48,325.47 272.24,324.77 271.79,325.45 272.77,325.81 273.10,326.31 273.21,326.87 272.87,327.52 272.75,328.13 273.12,328.62 273.36,328.04 273.43,327.37 274.00,326.97 274.25,327.50 274.17,328.11 274.26,328.68 274.33,329.26 274.77,329.73 274.49,330.37 274.84,330.87 275.60,331.27 274.89,332.02 275.65,332.42 275.54,333.03 275.91,332.52 275.99,331.86 276.42,331.38 276.85,330.90 276.37,330.18 276.57,329.65 276.71,329.10 276.75,328.52 277.30,328.07 277.88,327.72 277.67,327.14 277.52,326.57 277.73,326.11 278.56,325.83 278.14,325.19 277.96,324.61 278.40,324.22 278.17,324.86 278.48,325.36 278.22,326.01 279.38,326.31 279.08,326.97 279.18,327.52 278.96,328.18 279.09,328.74 279.16,329.31 280.32,329.58 279.95,330.28 280.40,330.73 280.81,331.21 280.95,331.79 280.83,332.48 281.12,333.26 281.93,333.03 282.45,332.54 282.81,331.93 282.74,332.66 283.59,332.66 283.46,333.44 284.13,333.58 284.71,333.80 285.23,334.13 285.80,334.29 285.73,335.10 286.33,335.23" fill="none" stroke="#00e8f8" stroke-width="1.1" stroke-linejoin="round" stroke-linecap="round" />
<polyline points="289.08,350.64 289.51,349.79 288.90,348.86 289.36,348.01 289.44,347.13 289.41,346.24 289.28,345.34 289.49,344.47 289.39,343.57 289.53,342.69 289.85,341.84 289.89,340.96 290.37,340.21 290.63,339.39 290.74,338.53 290.79,337.63 290.92,336.76 291.43,336.01 291.84,335.23 292.51,334.48 292.94,333.58 293.82,332.48 294.59,332.81 295.69,331.93 296.79,331.05 297.56,331.71 298.44,333.03 299.54,333.58 300.64,334.35 301.75,335.01 302.85,334.68 303.95,335.23 305.05,335.78 306.15,335.45 307.25,336.33 307.84,336.95 308.12,337.73 308.35,338.53 309.10,339.23 309.45,340.18" fill="none" stroke="#f01818" stroke-width="1.1" stroke-linejoin="round" stroke-linecap="round" />
<polyline points="311.41,350.63 312.08,350.26 311.67,349.71 310.80,349.08 310.96,348.62 311.62,348.26 312.01,347.85 312.27,347.42 311.27,346.76 311.50,346.32 312.63,346.04 312.32,345.51 312.21,345.01 312.03,344.50 312.14,344.03 313.49,343.74 312.28,343.08 312.85,342.68 312.50,342.15 312.69,341.69 313.64,341.34 313.97,340.90 312.78,340.25 313.12,339.82 312.60,339.26 313.73,338.99 312.77,338.35 312.46,337.83 314.31,337.68 313.45,337.06 314.31,336.74 313.57,336.15 314.59,335.85 313.92,335.27 313.91,334.80 313.38,334.26 313.16,333.76 314.29,333.46 314.54,333.03 315.14,332.66 313.58,331.96 314.70,331.66 314.27,331.13 314.60,330.72 314.70,330.28 314.08,329.69 314.44,329.30 314.99,328.96 315.88,328.67 314.36,327.91 315.20,327.62 315.90,327.30 315.39,326.73 316.44,326.59 315.14,325.62 315.17,325.12 316.87,325.21 316.19,324.46 317.23,324.21 316.39,323.50 315.66,322.83 317.47,322.76 316.54,322.04 316.87,321.62 317.71,321.21 317.17,320.72 317.61,320.29 316.32,319.75 317.60,319.38 316.50,318.85 316.90,318.42 317.81,318.02 317.80,317.56 316.54,317.02 316.64,316.57 317.04,316.14 317.30,315.70 317.07,315.23 317.33,314.79 318.12,315.19 317.91,315.68 317.00,316.23 316.70,316.73 318.44,317.05 317.45,317.61 317.10,318.11 318.57,318.46 317.02,319.06 318.49,319.41 317.57,319.96 317.71,320.42 317.60,320.90 318.28,321.31 318.09,321.80 317.81,322.30 318.01,322.75 318.35,323.12 318.12,323.74 318.71,323.99 318.81,324.46 319.02,324.91 319.93,325.22 318.86,325.93 319.21,326.35 319.80,326.73 319.38,327.30 318.91,327.82 318.93,328.28 319.63,328.66 320.24,329.04 319.71,329.57 320.50,329.94 320.51,330.40 319.97,330.93 320.70,331.30 319.95,331.85 320.17,332.28 320.15,332.77 321.18,333.00 320.14,333.74 320.51,334.13 319.74,333.57 321.09,333.28 321.24,332.83 320.76,332.31 319.91,331.74 320.86,331.40 320.67,330.91 321.86,330.60 320.30,329.94 321.08,329.58 320.46,330.18 320.27,330.72 320.87,331.12 320.79,331.63 322.09,331.92 320.62,332.66 321.65,332.99 321.75,332.53 322.77,332.30 322.80,331.83 321.46,331.01 322.22,330.72 322.53,331.52 323.36,331.29 324.35,331.52 323.50,329.91 324.50,330.15 324.96,330.51 324.40,331.29 325.70,331.32 324.52,332.34 325.86,332.35 325.63,332.99 325.07,333.55 326.47,333.84 325.83,334.41 325.07,335.00 326.54,335.28 326.50,335.77 326.09,336.31 326.52,336.73 327.15,337.13 326.93,337.64 327.03,338.11 326.43,338.68 327.36,338.35 326.92,337.82 327.42,337.43 326.05,336.76 327.33,336.49 326.08,335.84 326.97,335.50 327.25,335.08 326.77,334.54 327.11,334.13 327.98,333.92 327.54,333.26 327.74,332.82 328.47,332.56 327.91,331.85 328.12,330.86 329.05,331.29 330.06,331.88 330.18,330.72 330.18,331.29 330.83,331.53 330.33,332.35 331.52,332.33 331.32,332.99 332.39,332.73 331.70,332.05 331.39,331.47 332.29,331.16 331.78,330.53 331.37,329.92 332.12,329.58 332.15,330.30 333.52,329.70 333.26,330.72 334.00,330.39 333.04,329.61 333.92,329.33 334.71,329.02 334.07,328.32 334.35,327.88 334.17,327.30 334.72,327.55 335.50,327.69 335.67,328.14 335.08,329.01 334.46,328.43 335.46,328.10 335.17,327.57 335.40,327.12 336.24,326.77 335.53,326.17 336.31,326.55 336.17,327.02 335.36,327.56 336.66,327.89 336.75,328.34 336.09,328.87 336.63,329.27 336.18,329.78 336.49,330.21 335.82,330.73 335.85,331.19 336.67,331.57 335.88,332.11 336.22,332.53 336.21,332.99 337.08,332.95 336.03,334.25 337.01,334.13 337.60,334.50 337.86,334.92 338.05,335.36 337.06,336.00 336.68,336.53 336.93,336.96 337.76,337.28 338.11,337.69 338.69,338.06 337.81,338.68 337.71,339.21 338.03,339.58 338.60,339.85 338.49,340.39" fill="none" stroke="#1f6ef0" stroke-width="1.15" stroke-linejoin="round" stroke-linecap="round" />
<polyline points="340.42,351.76 340.81,351.31 340.44,350.75 341.59,350.41 341.22,349.85 340.23,349.20 341.73,348.90 339.93,348.14 340.99,347.78 341.15,347.34 340.97,346.83 340.70,346.30 340.40,345.77 342.05,345.63 340.49,344.84 341.74,344.62 342.67,344.33 341.04,343.53 341.90,343.23 341.34,342.66 342.31,342.39 342.18,341.91 342.56,341.52 343.02,341.15 341.73,340.44 342.11,340.05 342.18,339.61 342.70,339.25 341.87,338.51 343.79,338.53 343.70,337.99 343.69,337.48 342.32,336.59 343.49,336.41 344.38,336.23 344.36,335.70 343.97,335.01 344.72,334.78 344.41,334.13 344.54,333.63 344.32,332.95 344.31,332.38 344.79,332.05 345.54,331.85 344.98,330.86 345.81,330.80 346.85,330.88 346.68,330.15 347.36,330.07 347.98,329.93 347.82,329.01 347.87,329.72 348.94,329.40 348.96,330.15 349.26,329.72 349.20,329.15 350.11,328.96 349.76,328.27 349.42,327.59 350.09,327.30 350.80,327.30 351.23,326.73 352.37,326.64 351.03,325.56 352.58,325.62 351.00,324.44 351.69,324.17 352.37,323.89 352.02,323.20 353.25,323.14 353.85,322.83 353.63,322.20 352.96,321.38 353.51,321.05 354.45,321.51 354.64,320.48 355.04,319.86 355.78,319.91 355.59,319.16 357.10,319.55 356.87,318.79 356.92,318.20 357.30,318.87 358.06,318.77 358.46,319.38 359.19,319.34 358.83,320.46 360.00,320.05 360.33,320.48 360.57,321.43 361.47,321.05 361.54,321.73 361.67,322.36 362.61,322.18 363.24,322.35 363.75,322.75 364.09,323.48 364.88,323.32 365.15,323.81 365.94,323.78 366.02,324.46 366.78,324.75 366.09,325.52 367.39,325.63 365.81,326.70 367.57,326.65 367.98,327.06 367.16,327.87 367.73,328.44" fill="none" stroke="#2aa050" stroke-width="1.15" stroke-linejoin="round" stroke-linecap="round" />
<text x="279.50" y="322.70" font-size="5.00" fill="#00e8f8" font-weight="bold" text-anchor="start" stroke="#00e8f8" stroke-width="0.06" textLength="6.00" lengthAdjust="spacingAndGlyphs">5.0</text>
<text x="299.50" y="331.30" font-size="5.00" fill="#f01818" font-weight="bold" text-anchor="start" stroke="#f01818" stroke-width="0.06" textLength="8.60" lengthAdjust="spacingAndGlyphs">10.0</text>
<text x="327.90" y="323.60" font-size="5.00" fill="#1818f0" font-weight="bold" text-anchor="start" stroke="#1818f0" stroke-width="0.06" textLength="8.50" lengthAdjust="spacingAndGlyphs">15.0</text>
<text x="358.10" y="316.60" font-size="5.00" fill="#2a9a3a" font-weight="bold" text-anchor="start" stroke="#2a9a3a" stroke-width="0.06" textLength="8.50" lengthAdjust="spacingAndGlyphs">20.0</text>
<text x="367.70" y="379.90" font-size="6.40" fill="#111" font-weight="bold" text-anchor="end" stroke="#111" stroke-width="0.06" textLength="27.20" lengthAdjust="spacingAndGlyphs">With BOx</text>
<line x1="247.20" y1="285.90" x2="368.70" y2="285.90" stroke="#2b2b2b" stroke-width="1.1" />
<line x1="247.20" y1="383.30" x2="368.70" y2="383.30" stroke="#2b2b2b" stroke-width="1.1" />
<line x1="247.20" y1="285.40" x2="247.20" y2="383.80" stroke="#2b2b2b" stroke-width="1.1" />
<line x1="368.70" y1="285.40" x2="368.70" y2="383.80" stroke="#2b2b2b" stroke-width="1.1" />
<text x="371.50" y="283.70" font-size="12.80" fill="#111" font-weight="normal" text-anchor="start">(i)</text>
<line x1="402.60" y1="382.95" x2="405.10" y2="382.95" stroke="#f01818" stroke-width="0.9" />
<text x="401.80" y="384.79" font-size="5.10" fill="#f01818" font-weight="bold" text-anchor="end" stroke="#f01818" stroke-width="0.06" textLength="15.81" lengthAdjust="spacingAndGlyphs">-0.005</text>
<line x1="402.60" y1="363.50" x2="405.10" y2="363.50" stroke="#f01818" stroke-width="0.9" />
<text x="401.80" y="365.34" font-size="5.10" fill="#f01818" font-weight="bold" text-anchor="end" stroke="#f01818" stroke-width="0.06" textLength="13.81" lengthAdjust="spacingAndGlyphs">0.000</text>
<line x1="402.60" y1="344.05" x2="405.10" y2="344.05" stroke="#f01818" stroke-width="0.9" />
<text x="401.80" y="345.89" font-size="5.10" fill="#f01818" font-weight="bold" text-anchor="end" stroke="#f01818" stroke-width="0.06" textLength="13.81" lengthAdjust="spacingAndGlyphs">0.005</text>
<line x1="402.60" y1="324.60" x2="405.10" y2="324.60" stroke="#f01818" stroke-width="0.9" />
<text x="401.80" y="326.44" font-size="5.10" fill="#f01818" font-weight="bold" text-anchor="end" stroke="#f01818" stroke-width="0.06" textLength="13.81" lengthAdjust="spacingAndGlyphs">0.010</text>
<line x1="402.60" y1="305.15" x2="405.10" y2="305.15" stroke="#f01818" stroke-width="0.9" />
<text x="401.80" y="306.99" font-size="5.10" fill="#f01818" font-weight="bold" text-anchor="end" stroke="#f01818" stroke-width="0.06" textLength="13.81" lengthAdjust="spacingAndGlyphs">0.015</text>
<line x1="402.60" y1="285.70" x2="405.10" y2="285.70" stroke="#f01818" stroke-width="0.9" />
<text x="401.80" y="287.54" font-size="5.10" fill="#f01818" font-weight="bold" text-anchor="end" stroke="#f01818" stroke-width="0.06" textLength="13.81" lengthAdjust="spacingAndGlyphs">0.020</text>
<line x1="403.80" y1="373.23" x2="405.10" y2="373.23" stroke="#f01818" stroke-width="0.8" />
<line x1="403.80" y1="353.77" x2="405.10" y2="353.77" stroke="#f01818" stroke-width="0.8" />
<line x1="403.80" y1="334.33" x2="405.10" y2="334.33" stroke="#f01818" stroke-width="0.8" />
<line x1="403.80" y1="314.88" x2="405.10" y2="314.88" stroke="#f01818" stroke-width="0.8" />
<line x1="403.80" y1="295.42" x2="405.10" y2="295.42" stroke="#f01818" stroke-width="0.8" />
<line x1="525.80" y1="382.50" x2="528.30" y2="382.50" stroke="#3535ff" stroke-width="0.9" />
<text x="529.50" y="384.30" font-size="5.00" fill="#3535ff" font-weight="bold" text-anchor="start" stroke="#3535ff" stroke-width="0.06">-20</text>
<line x1="525.80" y1="366.40" x2="528.30" y2="366.40" stroke="#3535ff" stroke-width="0.9" />
<text x="529.50" y="368.20" font-size="5.00" fill="#3535ff" font-weight="bold" text-anchor="start" stroke="#3535ff" stroke-width="0.06">0</text>
<line x1="525.80" y1="350.30" x2="528.30" y2="350.30" stroke="#3535ff" stroke-width="0.9" />
<text x="529.50" y="352.10" font-size="5.00" fill="#3535ff" font-weight="bold" text-anchor="start" stroke="#3535ff" stroke-width="0.06">20</text>
<line x1="525.80" y1="334.20" x2="528.30" y2="334.20" stroke="#3535ff" stroke-width="0.9" />
<text x="529.50" y="336.00" font-size="5.00" fill="#3535ff" font-weight="bold" text-anchor="start" stroke="#3535ff" stroke-width="0.06">40</text>
<line x1="525.80" y1="318.10" x2="528.30" y2="318.10" stroke="#3535ff" stroke-width="0.9" />
<text x="529.50" y="319.90" font-size="5.00" fill="#3535ff" font-weight="bold" text-anchor="start" stroke="#3535ff" stroke-width="0.06">60</text>
<line x1="525.80" y1="302.00" x2="528.30" y2="302.00" stroke="#3535ff" stroke-width="0.9" />
<text x="529.50" y="303.80" font-size="5.00" fill="#3535ff" font-weight="bold" text-anchor="start" stroke="#3535ff" stroke-width="0.06">80</text>
<line x1="525.80" y1="285.90" x2="528.30" y2="285.90" stroke="#3535ff" stroke-width="0.9" />
<text x="529.50" y="287.70" font-size="5.00" fill="#3535ff" font-weight="bold" text-anchor="start" stroke="#3535ff" stroke-width="0.06">100</text>
<line x1="525.80" y1="374.45" x2="527.10" y2="374.45" stroke="#3535ff" stroke-width="0.8" />
<line x1="525.80" y1="358.35" x2="527.10" y2="358.35" stroke="#3535ff" stroke-width="0.8" />
<line x1="525.80" y1="342.25" x2="527.10" y2="342.25" stroke="#3535ff" stroke-width="0.8" />
<line x1="525.80" y1="326.15" x2="527.10" y2="326.15" stroke="#3535ff" stroke-width="0.8" />
<line x1="525.80" y1="310.05" x2="527.10" y2="310.05" stroke="#3535ff" stroke-width="0.8" />
<line x1="525.80" y1="293.95" x2="527.10" y2="293.95" stroke="#3535ff" stroke-width="0.8" />
<line x1="420.10" y1="383.30" x2="420.10" y2="385.60" stroke="#2b2b2b" stroke-width="0.9" />
<text x="420.10" y="391.51" font-size="5.30" fill="#2b2b2b" font-weight="bold" text-anchor="middle" stroke="#2b2b2b" stroke-width="0.06">5</text>
<line x1="450.30" y1="383.30" x2="450.30" y2="385.60" stroke="#2b2b2b" stroke-width="0.9" />
<text x="450.30" y="391.51" font-size="5.30" fill="#2b2b2b" font-weight="bold" text-anchor="middle" stroke="#2b2b2b" stroke-width="0.06">10</text>
<line x1="480.50" y1="383.30" x2="480.50" y2="385.60" stroke="#2b2b2b" stroke-width="0.9" />
<text x="480.50" y="391.51" font-size="5.30" fill="#2b2b2b" font-weight="bold" text-anchor="middle" stroke="#2b2b2b" stroke-width="0.06">15</text>
<line x1="510.70" y1="383.30" x2="510.70" y2="385.60" stroke="#2b2b2b" stroke-width="0.9" />
<text x="510.70" y="391.51" font-size="5.30" fill="#2b2b2b" font-weight="bold" text-anchor="middle" stroke="#2b2b2b" stroke-width="0.06">20</text>
<line x1="435.20" y1="383.30" x2="435.20" y2="384.60" stroke="#2b2b2b" stroke-width="0.8" />
<line x1="465.40" y1="383.30" x2="465.40" y2="384.60" stroke="#2b2b2b" stroke-width="0.8" />
<line x1="495.60" y1="383.30" x2="495.60" y2="384.60" stroke="#2b2b2b" stroke-width="0.8" />
<line x1="435.20" y1="383.30" x2="435.20" y2="384.60" stroke="#2b2b2b" stroke-width="0.8" />
<line x1="465.40" y1="383.30" x2="465.40" y2="384.60" stroke="#2b2b2b" stroke-width="0.8" />
<line x1="495.60" y1="383.30" x2="495.60" y2="384.60" stroke="#2b2b2b" stroke-width="0.8" />
<line x1="525.80" y1="383.30" x2="525.80" y2="384.60" stroke="#2b2b2b" stroke-width="0.8" />
<text transform="translate(379.00,334.50) rotate(-90)" x="0" y="2.88" font-size="8.00" fill="#f01818" font-weight="bold" text-anchor="middle" stroke="#f01818" stroke-width="0.2" textLength="39.30" lengthAdjust="spacingAndGlyphs">Voltage (V)</text>
<text transform="translate(543.50,334.10) rotate(-90)" x="0" y="3.02" font-size="8.40" fill="#3535ff" font-weight="bold" text-anchor="middle" stroke="#3535ff" stroke-width="0.2" textLength="46.40" lengthAdjust="spacingAndGlyphs">Response (%)</text>
<text x="430.30" y="402.98" font-size="6.60" fill="#111" font-weight="bold" text-anchor="start" stroke="#111" stroke-width="0.06" textLength="70.00" lengthAdjust="spacingAndGlyphs">Urea concentration (g/L)</text>
<text x="453.10" y="308.60" font-size="6.40" fill="#111" font-weight="bold" text-anchor="start" stroke="#111" stroke-width="0.06" textLength="26.60" lengthAdjust="spacingAndGlyphs">Add Urea</text>
<line x1="439.30" y1="310.90" x2="486.80" y2="310.90" stroke="#111" stroke-width="0.9" />
<polygon points="491.30,310.90 486.80,312.50 486.80,309.30" fill="#111" stroke="#111" stroke-width="0.3" stroke-linejoin="round"/>
<text x="455.10" y="379.60" font-size="6.40" fill="#111" font-weight="bold" text-anchor="start" stroke="#111" stroke-width="0.06" textLength="27.50" lengthAdjust="spacingAndGlyphs">With BOx</text>
<polyline points="419.90,331.30 450.20,324.90 480.60,331.30 510.80,327.90" fill="none" stroke="#f01818" stroke-width="1.1" stroke-linejoin="round" stroke-linecap="round" />
<line x1="419.90" y1="326.10" x2="419.90" y2="336.50" stroke="#f01818" stroke-width="0.9" />
<line x1="418.70" y1="326.10" x2="421.10" y2="326.10" stroke="#f01818" stroke-width="0.9" />
<line x1="418.70" y1="336.50" x2="421.10" y2="336.50" stroke="#f01818" stroke-width="0.9" />
<circle cx="419.90" cy="331.30" r="1.1" fill="#f01818"/>
<line x1="450.20" y1="315.30" x2="450.20" y2="334.30" stroke="#f01818" stroke-width="0.9" />
<line x1="449.00" y1="315.30" x2="451.40" y2="315.30" stroke="#f01818" stroke-width="0.9" />
<line x1="449.00" y1="334.30" x2="451.40" y2="334.30" stroke="#f01818" stroke-width="0.9" />
<circle cx="450.20" cy="324.90" r="1.1" fill="#f01818"/>
<line x1="480.60" y1="326.10" x2="480.60" y2="336.50" stroke="#f01818" stroke-width="0.9" />
<line x1="479.40" y1="326.10" x2="481.80" y2="326.10" stroke="#f01818" stroke-width="0.9" />
<line x1="479.40" y1="336.50" x2="481.80" y2="336.50" stroke="#f01818" stroke-width="0.9" />
<circle cx="480.60" cy="331.30" r="1.1" fill="#f01818"/>
<line x1="510.80" y1="322.20" x2="510.80" y2="333.60" stroke="#f01818" stroke-width="0.9" />
<line x1="509.60" y1="322.20" x2="512.00" y2="322.20" stroke="#f01818" stroke-width="0.9" />
<line x1="509.60" y1="333.60" x2="512.00" y2="333.60" stroke="#f01818" stroke-width="0.9" />
<circle cx="510.80" cy="327.90" r="1.1" fill="#f01818"/>
<polyline points="419.90,366.40 450.20,349.70 480.60,366.40 510.80,357.80" fill="none" stroke="#3535ff" stroke-width="1.1" stroke-linejoin="round" stroke-linecap="round" />
<circle cx="419.90" cy="366.40" r="1.2" fill="#3535ff"/>
<circle cx="450.20" cy="349.70" r="1.2" fill="#3535ff"/>
<circle cx="480.60" cy="366.40" r="1.2" fill="#3535ff"/>
<circle cx="510.80" cy="357.80" r="1.2" fill="#3535ff"/>
<line x1="405.10" y1="285.90" x2="525.80" y2="285.90" stroke="#2b2b2b" stroke-width="1.1" />
<line x1="405.10" y1="383.30" x2="525.80" y2="383.30" stroke="#2b2b2b" stroke-width="1.1" />
<line x1="405.10" y1="285.40" x2="405.10" y2="383.80" stroke="#f01818" stroke-width="1.1" />
<line x1="525.80" y1="285.40" x2="525.80" y2="383.80" stroke="#3535ff" stroke-width="1.1" />
<text x="207.10" y="419.60" font-size="12.80" fill="#111" font-weight="normal" text-anchor="start">(j)</text>
<line x1="244.70" y1="515.50" x2="247.20" y2="515.50" stroke="#2b2b2b" stroke-width="0.9" />
<text x="245.00" y="517.34" font-size="5.10" fill="#2b2b2b" font-weight="bold" text-anchor="end" stroke="#2b2b2b" stroke-width="0.06" textLength="16.02" lengthAdjust="spacingAndGlyphs">-0.020</text>
<line x1="244.70" y1="503.30" x2="247.20" y2="503.30" stroke="#2b2b2b" stroke-width="0.9" />
<text x="245.00" y="505.14" font-size="5.10" fill="#2b2b2b" font-weight="bold" text-anchor="end" stroke="#2b2b2b" stroke-width="0.06" textLength="16.02" lengthAdjust="spacingAndGlyphs">-0.015</text>
<line x1="244.70" y1="491.10" x2="247.20" y2="491.10" stroke="#2b2b2b" stroke-width="0.9" />
<text x="245.00" y="492.94" font-size="5.10" fill="#2b2b2b" font-weight="bold" text-anchor="end" stroke="#2b2b2b" stroke-width="0.06" textLength="16.02" lengthAdjust="spacingAndGlyphs">-0.010</text>
<line x1="244.70" y1="478.90" x2="247.20" y2="478.90" stroke="#2b2b2b" stroke-width="0.9" />
<text x="245.00" y="480.74" font-size="5.10" fill="#2b2b2b" font-weight="bold" text-anchor="end" stroke="#2b2b2b" stroke-width="0.06" textLength="16.02" lengthAdjust="spacingAndGlyphs">-0.005</text>
<line x1="244.70" y1="466.70" x2="247.20" y2="466.70" stroke="#2b2b2b" stroke-width="0.9" />
<text x="245.00" y="468.54" font-size="5.10" fill="#2b2b2b" font-weight="bold" text-anchor="end" stroke="#2b2b2b" stroke-width="0.06" textLength="13.99" lengthAdjust="spacingAndGlyphs">0.000</text>
<line x1="244.70" y1="454.50" x2="247.20" y2="454.50" stroke="#2b2b2b" stroke-width="0.9" />
<text x="245.00" y="456.34" font-size="5.10" fill="#2b2b2b" font-weight="bold" text-anchor="end" stroke="#2b2b2b" stroke-width="0.06" textLength="13.99" lengthAdjust="spacingAndGlyphs">0.005</text>
<line x1="244.70" y1="442.30" x2="247.20" y2="442.30" stroke="#2b2b2b" stroke-width="0.9" />
<text x="245.00" y="444.14" font-size="5.10" fill="#2b2b2b" font-weight="bold" text-anchor="end" stroke="#2b2b2b" stroke-width="0.06" textLength="13.99" lengthAdjust="spacingAndGlyphs">0.010</text>
<line x1="244.70" y1="430.10" x2="247.20" y2="430.10" stroke="#2b2b2b" stroke-width="0.9" />
<text x="245.00" y="431.94" font-size="5.10" fill="#2b2b2b" font-weight="bold" text-anchor="end" stroke="#2b2b2b" stroke-width="0.06" textLength="13.99" lengthAdjust="spacingAndGlyphs">0.015</text>
<line x1="244.70" y1="417.90" x2="247.20" y2="417.90" stroke="#2b2b2b" stroke-width="0.9" />
<text x="245.00" y="419.74" font-size="5.10" fill="#2b2b2b" font-weight="bold" text-anchor="end" stroke="#2b2b2b" stroke-width="0.06" textLength="13.99" lengthAdjust="spacingAndGlyphs">0.020</text>
<line x1="245.90" y1="509.40" x2="247.20" y2="509.40" stroke="#2b2b2b" stroke-width="0.8" />
<line x1="245.90" y1="497.20" x2="247.20" y2="497.20" stroke="#2b2b2b" stroke-width="0.8" />
<line x1="245.90" y1="485.00" x2="247.20" y2="485.00" stroke="#2b2b2b" stroke-width="0.8" />
<line x1="245.90" y1="472.80" x2="247.20" y2="472.80" stroke="#2b2b2b" stroke-width="0.8" />
<line x1="245.90" y1="460.60" x2="247.20" y2="460.60" stroke="#2b2b2b" stroke-width="0.8" />
<line x1="245.90" y1="448.40" x2="247.20" y2="448.40" stroke="#2b2b2b" stroke-width="0.8" />
<line x1="245.90" y1="436.20" x2="247.20" y2="436.20" stroke="#2b2b2b" stroke-width="0.8" />
<line x1="245.90" y1="424.00" x2="247.20" y2="424.00" stroke="#2b2b2b" stroke-width="0.8" />
<line x1="248.00" y1="516.00" x2="248.00" y2="518.30" stroke="#2b2b2b" stroke-width="0.9" />
<text x="248.00" y="525.03" font-size="6.20" fill="#2b2b2b" font-weight="bold" text-anchor="middle" stroke="#2b2b2b" stroke-width="0.3" font-family='"Liberation Serif", serif' textLength="2.35" lengthAdjust="spacingAndGlyphs">0</text>
<line x1="260.06" y1="516.00" x2="260.06" y2="518.30" stroke="#2b2b2b" stroke-width="0.9" />
<text x="260.06" y="525.03" font-size="6.20" fill="#2b2b2b" font-weight="bold" text-anchor="middle" stroke="#2b2b2b" stroke-width="0.3" font-family='"Liberation Serif", serif' textLength="2.35" lengthAdjust="spacingAndGlyphs">4</text>
<line x1="272.12" y1="516.00" x2="272.12" y2="518.30" stroke="#2b2b2b" stroke-width="0.9" />
<text x="272.12" y="525.03" font-size="6.20" fill="#2b2b2b" font-weight="bold" text-anchor="middle" stroke="#2b2b2b" stroke-width="0.3" font-family='"Liberation Serif", serif' textLength="2.35" lengthAdjust="spacingAndGlyphs">8</text>
<line x1="284.18" y1="516.00" x2="284.18" y2="518.30" stroke="#2b2b2b" stroke-width="0.9" />
<text x="284.18" y="525.03" font-size="6.20" fill="#2b2b2b" font-weight="bold" text-anchor="middle" stroke="#2b2b2b" stroke-width="0.3" font-family='"Liberation Serif", serif' textLength="4.70" lengthAdjust="spacingAndGlyphs">12</text>
<line x1="296.24" y1="516.00" x2="296.24" y2="518.30" stroke="#2b2b2b" stroke-width="0.9" />
<text x="296.24" y="525.03" font-size="6.20" fill="#2b2b2b" font-weight="bold" text-anchor="middle" stroke="#2b2b2b" stroke-width="0.3" font-family='"Liberation Serif", serif' textLength="4.70" lengthAdjust="spacingAndGlyphs">16</text>
<line x1="308.30" y1="516.00" x2="308.30" y2="518.30" stroke="#2b2b2b" stroke-width="0.9" />
<text x="308.30" y="525.03" font-size="6.20" fill="#2b2b2b" font-weight="bold" text-anchor="middle" stroke="#2b2b2b" stroke-width="0.3" font-family='"Liberation Serif", serif' textLength="4.70" lengthAdjust="spacingAndGlyphs">20</text>
<line x1="320.36" y1="516.00" x2="320.36" y2="518.30" stroke="#2b2b2b" stroke-width="0.9" />
<text x="320.36" y="525.03" font-size="6.20" fill="#2b2b2b" font-weight="bold" text-anchor="middle" stroke="#2b2b2b" stroke-width="0.3" font-family='"Liberation Serif", serif' textLength="4.70" lengthAdjust="spacingAndGlyphs">24</text>
<line x1="332.42" y1="516.00" x2="332.42" y2="518.30" stroke="#2b2b2b" stroke-width="0.9" />
<text x="332.42" y="525.03" font-size="6.20" fill="#2b2b2b" font-weight="bold" text-anchor="middle" stroke="#2b2b2b" stroke-width="0.3" font-family='"Liberation Serif", serif' textLength="4.70" lengthAdjust="spacingAndGlyphs">28</text>
<line x1="344.48" y1="516.00" x2="344.48" y2="518.30" stroke="#2b2b2b" stroke-width="0.9" />
<text x="344.48" y="525.03" font-size="6.20" fill="#2b2b2b" font-weight="bold" text-anchor="middle" stroke="#2b2b2b" stroke-width="0.3" font-family='"Liberation Serif", serif' textLength="4.70" lengthAdjust="spacingAndGlyphs">32</text>
<line x1="356.54" y1="516.00" x2="356.54" y2="518.30" stroke="#2b2b2b" stroke-width="0.9" />
<text x="356.54" y="525.03" font-size="6.20" fill="#2b2b2b" font-weight="bold" text-anchor="middle" stroke="#2b2b2b" stroke-width="0.3" font-family='"Liberation Serif", serif' textLength="4.70" lengthAdjust="spacingAndGlyphs">36</text>
<line x1="368.60" y1="516.00" x2="368.60" y2="518.30" stroke="#2b2b2b" stroke-width="0.9" />
<text x="368.60" y="525.03" font-size="6.20" fill="#2b2b2b" font-weight="bold" text-anchor="middle" stroke="#2b2b2b" stroke-width="0.3" font-family='"Liberation Serif", serif' textLength="4.70" lengthAdjust="spacingAndGlyphs">40</text>
<line x1="254.03" y1="516.00" x2="254.03" y2="517.30" stroke="#2b2b2b" stroke-width="0.8" />
<line x1="266.09" y1="516.00" x2="266.09" y2="517.30" stroke="#2b2b2b" stroke-width="0.8" />
<line x1="278.15" y1="516.00" x2="278.15" y2="517.30" stroke="#2b2b2b" stroke-width="0.8" />
<line x1="290.21" y1="516.00" x2="290.21" y2="517.30" stroke="#2b2b2b" stroke-width="0.8" />
<line x1="302.27" y1="516.00" x2="302.27" y2="517.30" stroke="#2b2b2b" stroke-width="0.8" />
<line x1="314.33" y1="516.00" x2="314.33" y2="517.30" stroke="#2b2b2b" stroke-width="0.8" />
<line x1="326.39" y1="516.00" x2="326.39" y2="517.30" stroke="#2b2b2b" stroke-width="0.8" />
<line x1="338.45" y1="516.00" x2="338.45" y2="517.30" stroke="#2b2b2b" stroke-width="0.8" />
<line x1="350.51" y1="516.00" x2="350.51" y2="517.30" stroke="#2b2b2b" stroke-width="0.8" />
<line x1="362.57" y1="516.00" x2="362.57" y2="517.30" stroke="#2b2b2b" stroke-width="0.8" />
<text x="308.40" y="537.59" font-size="8.30" fill="#111" font-weight="bold" text-anchor="middle" stroke="#111" stroke-width="0.2" textLength="26.90" lengthAdjust="spacingAndGlyphs">Time (s)</text>
<text transform="translate(222.20,467.20) rotate(-90)" x="0" y="2.88" font-size="8.00" fill="#111" font-weight="bold" text-anchor="middle" stroke="#111" stroke-width="0.2" textLength="38.80" lengthAdjust="spacingAndGlyphs">Voltage (V)</text>
<text x="252.00" y="428.30" font-size="6.40" fill="#111" font-weight="bold" text-anchor="start" stroke="#111" stroke-width="0.06" textLength="69.60" lengthAdjust="spacingAndGlyphs">NaCl concentration (g/L)</text>
<line x1="272.60" y1="447.80" x2="272.60" y2="482.00" stroke="#3a3a3a" stroke-width="1.5" stroke-dasharray="4.9 4.7"/>
<line x1="305.80" y1="447.80" x2="305.80" y2="482.00" stroke="#3a3a3a" stroke-width="1.5" stroke-dasharray="4.9 4.7"/>
<line x1="334.20" y1="447.80" x2="334.20" y2="482.00" stroke="#3a3a3a" stroke-width="1.5" stroke-dasharray="4.9 4.7"/>
<polyline points="250.25,466.49 251.16,464.24 251.95,464.80 252.74,456.91 253.41,463.11 254.20,463.11 254.99,458.60 255.67,462.55 256.46,463.68 257.24,456.35 257.92,461.98 258.71,463.11 259.50,456.91 260.40,455.78 261.30,453.53 261.75,452.40 262.43,456.35 263.22,454.66 264.01,455.78 264.69,456.91 265.47,454.66 266.26,454.09 267.17,454.09 268.07,455.78 268.86,456.91 269.65,457.47" fill="none" stroke="#00e8f8" stroke-width="1.1" stroke-linejoin="round" stroke-linecap="round" />
<polyline points="275.06,467.62 275.96,465.37 277.09,463.68 278.21,464.80 279.34,463.68 280.69,465.37 281.82,464.24 282.95,463.68 284.08,463.11 285.20,464.24 286.33,461.98 287.23,460.86 288.36,461.98 289.49,460.86 290.62,462.55 291.74,463.68 292.53,461.98 293.66,461.42 294.79,460.29 295.91,460.86 297.04,460.29 298.17,460.86 299.30,461.42 300.09,460.86 300.99,462.55 301.89,461.98 303.02,461.98" fill="none" stroke="#f01818" stroke-width="1.0" stroke-linejoin="round" stroke-linecap="round" />
<polyline points="307.80,466.10 307.56,465.41 308.80,465.56 308.33,464.73 308.32,464.17 309.00,464.00 309.34,463.23 309.84,463.13 310.57,463.89 311.00,463.50 311.43,463.26 311.79,462.96 312.12,462.64 311.67,461.69 312.53,461.79 312.56,461.24 313.00,461.00 313.30,461.65 313.80,461.90 314.26,462.24 315.00,462.00 314.74,461.27 315.95,461.48 316.26,461.11 316.55,460.73 315.81,459.70 316.19,459.38 316.33,458.91 316.50,458.45 317.30,458.40 317.18,459.10 317.50,459.51 317.99,459.80 318.05,460.38 318.56,460.67 319.00,461.00 319.12,460.46 319.27,459.94 319.60,459.60 320.59,459.92 320.37,459.04 321.00,459.00 321.55,459.10 321.86,459.51 322.60,459.36 322.80,459.93 323.00,460.50 323.22,459.96 323.98,460.14 324.09,459.45 324.45,459.10 325.00,459.00 325.79,459.33 326.00,458.50 326.72,458.69 327.00,458.00 327.22,458.45 328.13,458.20 328.09,458.91 328.40,459.27 328.40,459.94 329.00,460.00 329.49,460.14 329.51,460.82 330.02,460.94 330.66,460.90 330.42,461.89 331.10,461.80" fill="none" stroke="#1f6ef0" stroke-width="1.15" stroke-linejoin="round" stroke-linecap="round" />
<polyline points="334.60,467.00 334.39,466.22 335.60,466.57 335.09,465.55 335.18,465.00 335.73,464.83 336.73,465.01 337.30,464.85 337.00,464.00 337.15,463.04 337.99,463.49 338.49,463.24 339.00,463.00 339.67,463.00 339.31,461.98 339.99,461.99 340.16,461.49 341.04,461.71 341.00,461.00 341.67,460.91 341.68,462.14 342.65,461.44 343.00,462.00 342.87,461.37 343.77,461.43 343.75,460.87 343.48,460.15 344.43,460.25 343.94,459.38 345.13,459.63 345.00,459.00 345.36,459.53 345.79,459.91 346.41,459.93 347.00,460.00 347.17,459.50 347.55,459.22 347.88,458.88 348.78,459.11 348.20,457.87 349.00,458.00 349.78,458.31 349.66,456.82 350.29,456.83 351.00,457.00 351.33,456.41 352.29,457.07 352.50,456.25 353.00,456.00 353.40,455.68 354.10,456.31 354.26,455.17 354.82,455.38 355.30,455.30 355.60,455.68 355.69,456.27 356.03,456.61 356.49,456.83 357.00,457.00 357.61,457.03 358.12,457.25 358.75,457.26 359.00,458.00 358.98,458.71 359.51,458.80 359.77,459.19 360.72,458.80 360.78,459.43 360.77,460.13 361.40,460.10" fill="none" stroke="#2aa050" stroke-width="1.15" stroke-linejoin="round" stroke-linecap="round" />
<text x="263.80" y="452.50" font-size="5.00" fill="#00e8f8" font-weight="bold" text-anchor="start" stroke="#00e8f8" stroke-width="0.06" textLength="6.20" lengthAdjust="spacingAndGlyphs">5.0</text>
<text x="295.00" y="458.60" font-size="5.00" fill="#f01818" font-weight="bold" text-anchor="start" stroke="#f01818" stroke-width="0.06" textLength="8.70" lengthAdjust="spacingAndGlyphs">10.0</text>
<text x="323.40" y="456.40" font-size="5.00" fill="#1818f0" font-weight="bold" text-anchor="start" stroke="#1818f0" stroke-width="0.06" textLength="8.60" lengthAdjust="spacingAndGlyphs">20.0</text>
<text x="354.50" y="454.10" font-size="5.00" fill="#2a9a3a" font-weight="bold" text-anchor="start" stroke="#2a9a3a" stroke-width="0.06" textLength="8.90" lengthAdjust="spacingAndGlyphs">40.0</text>
<text x="366.80" y="512.40" font-size="6.40" fill="#111" font-weight="bold" text-anchor="end" stroke="#111" stroke-width="0.06" textLength="27.30" lengthAdjust="spacingAndGlyphs">With BOx</text>
<line x1="247.20" y1="418.10" x2="368.60" y2="418.10" stroke="#2b2b2b" stroke-width="1.1" />
<line x1="247.20" y1="516.00" x2="368.60" y2="516.00" stroke="#2b2b2b" stroke-width="1.1" />
<line x1="247.20" y1="417.60" x2="247.20" y2="516.50" stroke="#2b2b2b" stroke-width="1.1" />
<line x1="368.60" y1="417.60" x2="368.60" y2="516.50" stroke="#2b2b2b" stroke-width="1.1" />
<text x="371.20" y="419.10" font-size="12.80" fill="#111" font-weight="normal" text-anchor="start">(k)</text>
<line x1="402.60" y1="510.90" x2="405.10" y2="510.90" stroke="#f01818" stroke-width="0.9" />
<text x="401.80" y="512.74" font-size="5.10" fill="#f01818" font-weight="bold" text-anchor="end" stroke="#f01818" stroke-width="0.06" textLength="15.81" lengthAdjust="spacingAndGlyphs">-0.004</text>
<line x1="402.60" y1="497.90" x2="405.10" y2="497.90" stroke="#f01818" stroke-width="0.9" />
<text x="401.80" y="499.74" font-size="5.10" fill="#f01818" font-weight="bold" text-anchor="end" stroke="#f01818" stroke-width="0.06" textLength="15.81" lengthAdjust="spacingAndGlyphs">-0.002</text>
<line x1="402.60" y1="484.90" x2="405.10" y2="484.90" stroke="#f01818" stroke-width="0.9" />
<text x="401.80" y="486.74" font-size="5.10" fill="#f01818" font-weight="bold" text-anchor="end" stroke="#f01818" stroke-width="0.06" textLength="13.81" lengthAdjust="spacingAndGlyphs">0.000</text>
<line x1="402.60" y1="471.90" x2="405.10" y2="471.90" stroke="#f01818" stroke-width="0.9" />
<text x="401.80" y="473.74" font-size="5.10" fill="#f01818" font-weight="bold" text-anchor="end" stroke="#f01818" stroke-width="0.06" textLength="13.81" lengthAdjust="spacingAndGlyphs">0.002</text>
<line x1="402.60" y1="458.90" x2="405.10" y2="458.90" stroke="#f01818" stroke-width="0.9" />
<text x="401.80" y="460.74" font-size="5.10" fill="#f01818" font-weight="bold" text-anchor="end" stroke="#f01818" stroke-width="0.06" textLength="13.81" lengthAdjust="spacingAndGlyphs">0.004</text>
<line x1="402.60" y1="445.90" x2="405.10" y2="445.90" stroke="#f01818" stroke-width="0.9" />
<text x="401.80" y="447.74" font-size="5.10" fill="#f01818" font-weight="bold" text-anchor="end" stroke="#f01818" stroke-width="0.06" textLength="13.81" lengthAdjust="spacingAndGlyphs">0.006</text>
<line x1="402.60" y1="432.90" x2="405.10" y2="432.90" stroke="#f01818" stroke-width="0.9" />
<text x="401.80" y="434.74" font-size="5.10" fill="#f01818" font-weight="bold" text-anchor="end" stroke="#f01818" stroke-width="0.06" textLength="13.81" lengthAdjust="spacingAndGlyphs">0.008</text>
<line x1="402.60" y1="419.90" x2="405.10" y2="419.90" stroke="#f01818" stroke-width="0.9" />
<text x="401.80" y="421.74" font-size="5.10" fill="#f01818" font-weight="bold" text-anchor="end" stroke="#f01818" stroke-width="0.06" textLength="13.81" lengthAdjust="spacingAndGlyphs">0.010</text>
<line x1="403.80" y1="504.40" x2="405.10" y2="504.40" stroke="#f01818" stroke-width="0.8" />
<line x1="403.80" y1="491.40" x2="405.10" y2="491.40" stroke="#f01818" stroke-width="0.8" />
<line x1="403.80" y1="478.40" x2="405.10" y2="478.40" stroke="#f01818" stroke-width="0.8" />
<line x1="403.80" y1="465.40" x2="405.10" y2="465.40" stroke="#f01818" stroke-width="0.8" />
<line x1="403.80" y1="452.40" x2="405.10" y2="452.40" stroke="#f01818" stroke-width="0.8" />
<line x1="403.80" y1="439.40" x2="405.10" y2="439.40" stroke="#f01818" stroke-width="0.8" />
<line x1="403.80" y1="426.40" x2="405.10" y2="426.40" stroke="#f01818" stroke-width="0.8" />
<line x1="403.80" y1="517.40" x2="405.10" y2="517.40" stroke="#f01818" stroke-width="0.8" />
<line x1="525.80" y1="517.80" x2="528.30" y2="517.80" stroke="#3535ff" stroke-width="0.9" />
<text x="529.50" y="519.60" font-size="5.00" fill="#3535ff" font-weight="bold" text-anchor="start" stroke="#3535ff" stroke-width="0.06">-10</text>
<line x1="525.80" y1="501.40" x2="528.30" y2="501.40" stroke="#3535ff" stroke-width="0.9" />
<text x="529.50" y="503.20" font-size="5.00" fill="#3535ff" font-weight="bold" text-anchor="start" stroke="#3535ff" stroke-width="0.06">-5</text>
<line x1="525.80" y1="485.00" x2="528.30" y2="485.00" stroke="#3535ff" stroke-width="0.9" />
<text x="529.50" y="486.80" font-size="5.00" fill="#3535ff" font-weight="bold" text-anchor="start" stroke="#3535ff" stroke-width="0.06">0</text>
<line x1="525.80" y1="468.60" x2="528.30" y2="468.60" stroke="#3535ff" stroke-width="0.9" />
<text x="529.50" y="470.40" font-size="5.00" fill="#3535ff" font-weight="bold" text-anchor="start" stroke="#3535ff" stroke-width="0.06">5</text>
<line x1="525.80" y1="452.20" x2="528.30" y2="452.20" stroke="#3535ff" stroke-width="0.9" />
<text x="529.50" y="454.00" font-size="5.00" fill="#3535ff" font-weight="bold" text-anchor="start" stroke="#3535ff" stroke-width="0.06">10</text>
<line x1="525.80" y1="435.80" x2="528.30" y2="435.80" stroke="#3535ff" stroke-width="0.9" />
<text x="529.50" y="437.60" font-size="5.00" fill="#3535ff" font-weight="bold" text-anchor="start" stroke="#3535ff" stroke-width="0.06">15</text>
<line x1="525.80" y1="419.40" x2="528.30" y2="419.40" stroke="#3535ff" stroke-width="0.9" />
<text x="529.50" y="421.20" font-size="5.00" fill="#3535ff" font-weight="bold" text-anchor="start" stroke="#3535ff" stroke-width="0.06">20</text>
<line x1="525.80" y1="509.60" x2="527.10" y2="509.60" stroke="#3535ff" stroke-width="0.8" />
<line x1="525.80" y1="493.20" x2="527.10" y2="493.20" stroke="#3535ff" stroke-width="0.8" />
<line x1="525.80" y1="476.80" x2="527.10" y2="476.80" stroke="#3535ff" stroke-width="0.8" />
<line x1="525.80" y1="460.40" x2="527.10" y2="460.40" stroke="#3535ff" stroke-width="0.8" />
<line x1="525.80" y1="444.00" x2="527.10" y2="444.00" stroke="#3535ff" stroke-width="0.8" />
<line x1="525.80" y1="427.60" x2="527.10" y2="427.60" stroke="#3535ff" stroke-width="0.8" />
<line x1="405.10" y1="517.60" x2="405.10" y2="519.90" stroke="#2b2b2b" stroke-width="0.9" />
<text x="405.10" y="526.22" font-size="5.90" fill="#2b2b2b" font-weight="bold" text-anchor="middle" stroke="#2b2b2b" stroke-width="0.06" textLength="3.00" lengthAdjust="spacingAndGlyphs">0</text>
<line x1="418.45" y1="517.60" x2="418.45" y2="519.90" stroke="#2b2b2b" stroke-width="0.9" />
<text x="418.45" y="526.22" font-size="5.90" fill="#2b2b2b" font-weight="bold" text-anchor="middle" stroke="#2b2b2b" stroke-width="0.06" textLength="3.00" lengthAdjust="spacingAndGlyphs">5</text>
<line x1="431.80" y1="517.60" x2="431.80" y2="519.90" stroke="#2b2b2b" stroke-width="0.9" />
<text x="431.80" y="526.22" font-size="5.90" fill="#2b2b2b" font-weight="bold" text-anchor="middle" stroke="#2b2b2b" stroke-width="0.06" textLength="6.00" lengthAdjust="spacingAndGlyphs">10</text>
<line x1="445.15" y1="517.60" x2="445.15" y2="519.90" stroke="#2b2b2b" stroke-width="0.9" />
<text x="445.15" y="526.22" font-size="5.90" fill="#2b2b2b" font-weight="bold" text-anchor="middle" stroke="#2b2b2b" stroke-width="0.06" textLength="6.00" lengthAdjust="spacingAndGlyphs">15</text>
<line x1="458.50" y1="517.60" x2="458.50" y2="519.90" stroke="#2b2b2b" stroke-width="0.9" />
<text x="458.50" y="526.22" font-size="5.90" fill="#2b2b2b" font-weight="bold" text-anchor="middle" stroke="#2b2b2b" stroke-width="0.06" textLength="6.00" lengthAdjust="spacingAndGlyphs">20</text>
<line x1="471.85" y1="517.60" x2="471.85" y2="519.90" stroke="#2b2b2b" stroke-width="0.9" />
<text x="471.85" y="526.22" font-size="5.90" fill="#2b2b2b" font-weight="bold" text-anchor="middle" stroke="#2b2b2b" stroke-width="0.06" textLength="6.00" lengthAdjust="spacingAndGlyphs">25</text>
<line x1="485.20" y1="517.60" x2="485.20" y2="519.90" stroke="#2b2b2b" stroke-width="0.9" />
<text x="485.20" y="526.22" font-size="5.90" fill="#2b2b2b" font-weight="bold" text-anchor="middle" stroke="#2b2b2b" stroke-width="0.06" textLength="6.00" lengthAdjust="spacingAndGlyphs">30</text>
<line x1="498.55" y1="517.60" x2="498.55" y2="519.90" stroke="#2b2b2b" stroke-width="0.9" />
<text x="498.55" y="526.22" font-size="5.90" fill="#2b2b2b" font-weight="bold" text-anchor="middle" stroke="#2b2b2b" stroke-width="0.06" textLength="6.00" lengthAdjust="spacingAndGlyphs">35</text>
<line x1="511.90" y1="517.60" x2="511.90" y2="519.90" stroke="#2b2b2b" stroke-width="0.9" />
<text x="511.90" y="526.22" font-size="5.90" fill="#2b2b2b" font-weight="bold" text-anchor="middle" stroke="#2b2b2b" stroke-width="0.06" textLength="6.00" lengthAdjust="spacingAndGlyphs">40</text>
<line x1="525.25" y1="517.60" x2="525.25" y2="519.90" stroke="#2b2b2b" stroke-width="0.9" />
<text x="525.25" y="526.22" font-size="5.90" fill="#2b2b2b" font-weight="bold" text-anchor="middle" stroke="#2b2b2b" stroke-width="0.06" textLength="6.00" lengthAdjust="spacingAndGlyphs">45</text>
<line x1="411.78" y1="517.60" x2="411.78" y2="518.90" stroke="#2b2b2b" stroke-width="0.8" />
<line x1="425.12" y1="517.60" x2="425.12" y2="518.90" stroke="#2b2b2b" stroke-width="0.8" />
<line x1="438.48" y1="517.60" x2="438.48" y2="518.90" stroke="#2b2b2b" stroke-width="0.8" />
<line x1="451.83" y1="517.60" x2="451.83" y2="518.90" stroke="#2b2b2b" stroke-width="0.8" />
<line x1="465.18" y1="517.60" x2="465.18" y2="518.90" stroke="#2b2b2b" stroke-width="0.8" />
<line x1="478.53" y1="517.60" x2="478.53" y2="518.90" stroke="#2b2b2b" stroke-width="0.8" />
<line x1="491.88" y1="517.60" x2="491.88" y2="518.90" stroke="#2b2b2b" stroke-width="0.8" />
<line x1="505.23" y1="517.60" x2="505.23" y2="518.90" stroke="#2b2b2b" stroke-width="0.8" />
<line x1="518.58" y1="517.60" x2="518.58" y2="518.90" stroke="#2b2b2b" stroke-width="0.8" />
<text transform="translate(379.60,468.60) rotate(-90)" x="0" y="2.88" font-size="8.00" fill="#f01818" font-weight="bold" text-anchor="middle" stroke="#f01818" stroke-width="0.2" textLength="38.70" lengthAdjust="spacingAndGlyphs">Voltage (V)</text>
<text transform="translate(541.40,468.50) rotate(-90)" x="0" y="2.88" font-size="8.00" fill="#3535ff" font-weight="bold" text-anchor="middle" stroke="#3535ff" stroke-width="0.2" textLength="46.50" lengthAdjust="spacingAndGlyphs">Response (%)</text>
<text x="423.70" y="538.70" font-size="8.60" fill="#111" font-weight="bold" text-anchor="start" stroke="#111" stroke-width="0.2" textLength="83.10" lengthAdjust="spacingAndGlyphs">NaCl concentration (g/L)</text>
<text x="453.10" y="439.90" font-size="6.40" fill="#111" font-weight="bold" text-anchor="start" stroke="#111" stroke-width="0.06" textLength="26.30" lengthAdjust="spacingAndGlyphs">Add NaCl</text>
<line x1="440.10" y1="441.60" x2="485.90" y2="441.60" stroke="#111" stroke-width="0.9" />
<polygon points="490.40,441.60 485.90,443.20 485.90,440.00" fill="#111" stroke="#111" stroke-width="0.3" stroke-linejoin="round"/>
<text x="454.10" y="514.10" font-size="6.40" fill="#111" font-weight="bold" text-anchor="start" stroke="#111" stroke-width="0.06" textLength="27.70" lengthAdjust="spacingAndGlyphs">With BOx</text>
<polyline points="418.50,453.70 431.90,458.90 458.80,462.20 512.90,457.00" fill="none" stroke="#f01818" stroke-width="1.1" stroke-linejoin="round" stroke-linecap="round" />
<line x1="418.50" y1="444.20" x2="418.50" y2="462.70" stroke="#f01818" stroke-width="0.9" />
<line x1="417.10" y1="444.20" x2="419.90" y2="444.20" stroke="#f01818" stroke-width="0.9" />
<line x1="417.10" y1="462.70" x2="419.90" y2="462.70" stroke="#f01818" stroke-width="0.9" />
<circle cx="418.50" cy="453.70" r="1.1" fill="#f01818"/>
<line x1="431.90" y1="451.50" x2="431.90" y2="466.10" stroke="#f01818" stroke-width="0.9" />
<line x1="430.50" y1="451.50" x2="433.30" y2="451.50" stroke="#f01818" stroke-width="0.9" />
<line x1="430.50" y1="466.10" x2="433.30" y2="466.10" stroke="#f01818" stroke-width="0.9" />
<circle cx="431.90" cy="458.90" r="1.1" fill="#f01818"/>
<line x1="458.80" y1="459.70" x2="458.80" y2="465.30" stroke="#f01818" stroke-width="0.9" />
<line x1="457.40" y1="459.70" x2="460.20" y2="459.70" stroke="#f01818" stroke-width="0.9" />
<line x1="457.40" y1="465.30" x2="460.20" y2="465.30" stroke="#f01818" stroke-width="0.9" />
<circle cx="458.80" cy="462.20" r="1.1" fill="#f01818"/>
<line x1="512.90" y1="453.20" x2="512.90" y2="462.20" stroke="#f01818" stroke-width="0.9" />
<line x1="511.50" y1="453.20" x2="514.30" y2="453.20" stroke="#f01818" stroke-width="0.9" />
<line x1="511.50" y1="462.20" x2="514.30" y2="462.20" stroke="#f01818" stroke-width="0.9" />
<circle cx="512.90" cy="457.00" r="1.1" fill="#f01818"/>
<polyline points="418.50,485.40 431.90,477.60 458.80,473.10 512.90,479.20" fill="none" stroke="#3535ff" stroke-width="1.1" stroke-linejoin="round" stroke-linecap="round" />
<circle cx="418.50" cy="485.40" r="1.2" fill="#3535ff"/>
<circle cx="431.90" cy="477.60" r="1.2" fill="#3535ff"/>
<circle cx="458.80" cy="473.10" r="1.2" fill="#3535ff"/>
<circle cx="512.90" cy="479.20" r="1.2" fill="#3535ff"/>
<line x1="405.10" y1="419.80" x2="525.80" y2="419.80" stroke="#2b2b2b" stroke-width="1.1" />
<line x1="405.10" y1="517.60" x2="525.80" y2="517.60" stroke="#2b2b2b" stroke-width="1.1" />
<line x1="405.10" y1="419.30" x2="405.10" y2="518.10" stroke="#f01818" stroke-width="1.1" />
<line x1="525.80" y1="419.30" x2="525.80" y2="518.10" stroke="#3535ff" stroke-width="1.1" />
</svg></body></html>
